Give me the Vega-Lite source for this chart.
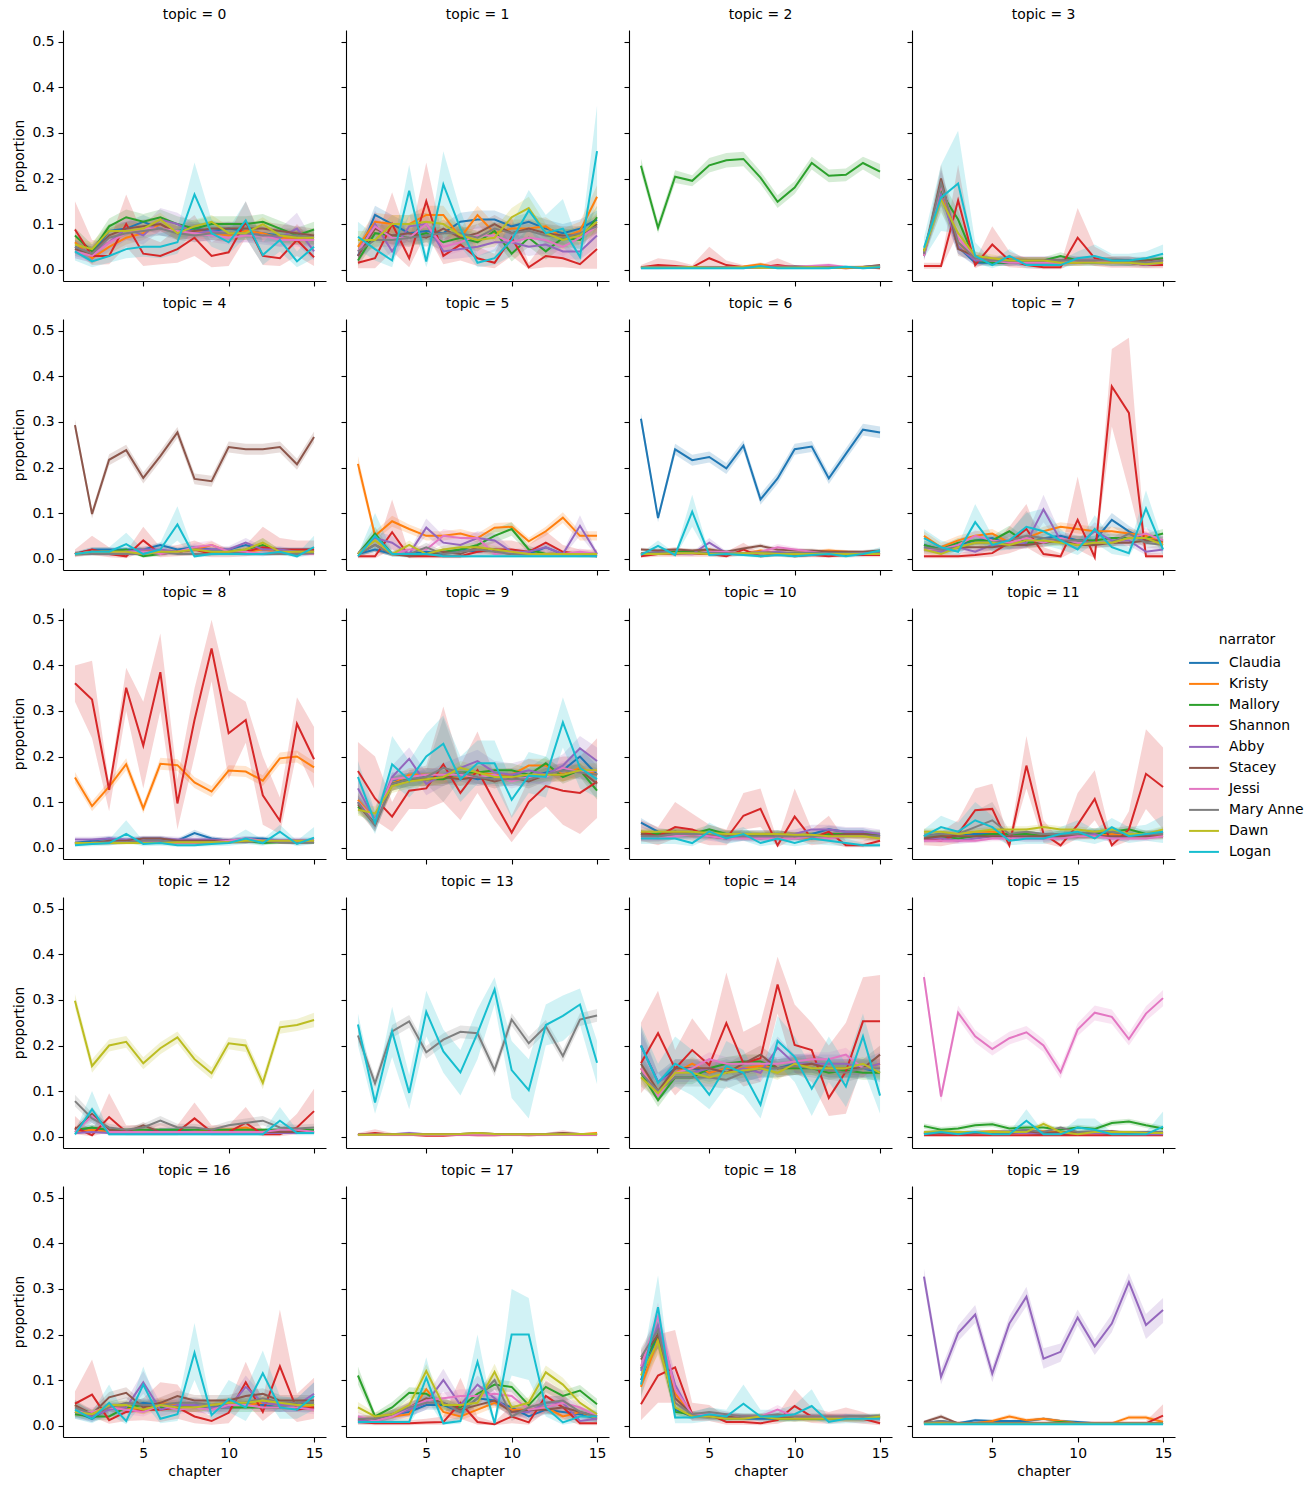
{
"$schema": "https://vega.github.io/schema/vega-lite/v6.json",
"background": "white",
"padding": {"left": 12, "top": 8, "right": 5, "bottom": 5},
"data": {"values": [
{"topic":0,"narrator":"Claudia","chapter":[1,2,3,4,5,6,7,8,9,10,11,12,13,14,15],"p":[0.05,0.035,0.085,0.09,0.105,0.09,0.085,0.09,0.085,0.09,0.085,0.08,0.075,0.07,0.07],"lo":[0.035,0.02,0.07,0.075,0.09,0.075,0.07,0.075,0.07,0.075,0.07,0.065,0.06,0.055,0.055],"hi":[0.065,0.05,0.1,0.105,0.12,0.105,0.1,0.105,0.1,0.105,0.1,0.095,0.09,0.085,0.085]},
{"topic":0,"narrator":"Kristy","chapter":[1,2,3,4,5,6,7,8,9,10,11,12,13,14,15],"p":[0.06,0.025,0.05,0.07,0.08,0.1,0.08,0.085,0.08,0.075,0.085,0.08,0.07,0.07,0.065],"lo":[0.045,0.012,0.035,0.055,0.065,0.085,0.065,0.07,0.065,0.06,0.07,0.065,0.055,0.055,0.05],"hi":[0.075,0.038,0.065,0.085,0.095,0.115,0.095,0.1,0.095,0.09,0.1,0.095,0.085,0.085,0.08]},
{"topic":0,"narrator":"Mallory","chapter":[1,2,3,4,5,6,7,8,9,10,11,12,13,14,15],"p":[0.075,0.04,0.095,0.115,0.105,0.115,0.1,0.09,0.1,0.1,0.1,0.105,0.09,0.075,0.088],"lo":[0.058,0.025,0.078,0.098,0.088,0.098,0.083,0.073,0.083,0.083,0.083,0.088,0.073,0.058,0.07],"hi":[0.092,0.055,0.112,0.132,0.122,0.132,0.117,0.107,0.117,0.117,0.117,0.122,0.107,0.092,0.105]},
{"topic":0,"narrator":"Shannon","chapter":[1,2,3,4,5,6,7,8,9,10,11,12,13,14,15],"p":[0.088,0.03,0.03,0.1,0.035,0.03,0.045,0.07,0.03,0.038,0.105,0.03,0.025,0.065,0.027],"lo":[0.04,0.01,0.012,0.05,0.008,0.012,0.015,0.03,0.005,0.008,0.07,0.01,0.008,0.03,0.008],"hi":[0.15,0.065,0.06,0.165,0.075,0.06,0.09,0.12,0.06,0.08,0.15,0.065,0.055,0.1,0.06]},
{"topic":0,"narrator":"Abby","chapter":[1,2,3,4,5,6,7,8,9,10,11,12,13,14,15],"p":[0.045,0.035,0.06,0.09,0.075,0.11,0.1,0.08,0.085,0.08,0.08,0.075,0.07,0.09,0.04],"lo":[0.025,0.015,0.04,0.065,0.055,0.085,0.075,0.06,0.065,0.06,0.06,0.055,0.05,0.055,0.02],"hi":[0.065,0.055,0.08,0.115,0.095,0.135,0.125,0.1,0.105,0.1,0.1,0.095,0.09,0.125,0.06]},
{"topic":0,"narrator":"Stacey","chapter":[1,2,3,4,5,6,7,8,9,10,11,12,13,14,15],"p":[0.045,0.035,0.075,0.09,0.095,0.1,0.08,0.085,0.09,0.09,0.09,0.09,0.085,0.08,0.075],"lo":[0.03,0.02,0.06,0.075,0.08,0.085,0.065,0.07,0.075,0.075,0.075,0.075,0.07,0.065,0.06],"hi":[0.06,0.05,0.09,0.105,0.11,0.115,0.095,0.1,0.105,0.105,0.105,0.105,0.1,0.095,0.09]},
{"topic":0,"narrator":"Jessi","chapter":[1,2,3,4,5,6,7,8,9,10,11,12,13,14,15],"p":[0.04,0.03,0.06,0.08,0.09,0.09,0.085,0.08,0.075,0.07,0.075,0.075,0.065,0.065,0.065],"lo":[0.025,0.015,0.045,0.065,0.075,0.075,0.07,0.065,0.06,0.055,0.06,0.06,0.05,0.05,0.05],"hi":[0.055,0.045,0.075,0.095,0.105,0.105,0.1,0.095,0.09,0.085,0.09,0.09,0.08,0.08,0.08]},
{"topic":0,"narrator":"Mary Anne","chapter":[1,2,3,4,5,6,7,8,9,10,11,12,13,14,15],"p":[0.05,0.035,0.07,0.08,0.085,0.09,0.08,0.075,0.08,0.08,0.08,0.075,0.075,0.075,0.07],"lo":[0.035,0.02,0.055,0.065,0.07,0.075,0.065,0.06,0.065,0.065,0.065,0.06,0.06,0.06,0.055],"hi":[0.065,0.05,0.085,0.095,0.1,0.105,0.095,0.09,0.095,0.095,0.095,0.09,0.09,0.09,0.085]},
{"topic":0,"narrator":"Dawn","chapter":[1,2,3,4,5,6,7,8,9,10,11,12,13,14,15],"p":[0.055,0.045,0.085,0.085,0.09,0.11,0.08,0.095,0.105,0.08,0.08,0.1,0.075,0.07,0.07],"lo":[0.04,0.03,0.07,0.07,0.075,0.095,0.065,0.08,0.09,0.065,0.065,0.085,0.06,0.055,0.055],"hi":[0.07,0.06,0.1,0.1,0.105,0.125,0.095,0.11,0.12,0.095,0.095,0.115,0.09,0.085,0.085]},
{"topic":0,"narrator":"Logan","chapter":[1,2,3,4,5,6,7,8,9,10,11,12,13,14,15],"p":[0.04,0.018,0.03,0.045,0.05,0.05,0.06,0.165,0.08,0.06,0.108,0.032,0.065,0.018,0.05],"lo":[0.02,0.005,0.015,0.025,0.028,0.025,0.035,0.095,0.05,0.035,0.07,0.01,0.04,0.005,0.025],"hi":[0.06,0.035,0.05,0.065,0.075,0.08,0.09,0.235,0.11,0.09,0.15,0.06,0.095,0.04,0.08]},
{"topic":1,"narrator":"Claudia","chapter":[1,2,3,4,5,6,7,8,9,10,11,12,13,14,15],"p":[0.03,0.12,0.1,0.08,0.085,0.08,0.105,0.11,0.11,0.095,0.105,0.09,0.08,0.09,0.11],"lo":[0.015,0.1,0.08,0.06,0.065,0.06,0.085,0.09,0.09,0.075,0.085,0.07,0.06,0.07,0.09],"hi":[0.045,0.14,0.12,0.1,0.105,0.1,0.125,0.13,0.13,0.115,0.125,0.11,0.1,0.11,0.13]},
{"topic":1,"narrator":"Kristy","chapter":[1,2,3,4,5,6,7,8,9,10,11,12,13,14,15],"p":[0.05,0.105,0.1,0.1,0.12,0.12,0.07,0.12,0.08,0.09,0.09,0.095,0.07,0.085,0.16],"lo":[0.03,0.085,0.08,0.08,0.1,0.1,0.05,0.1,0.06,0.07,0.07,0.075,0.05,0.065,0.135],"hi":[0.07,0.125,0.12,0.12,0.14,0.14,0.09,0.14,0.1,0.11,0.11,0.115,0.09,0.105,0.185]},
{"topic":1,"narrator":"Mallory","chapter":[1,2,3,4,5,6,7,8,9,10,11,12,13,14,15],"p":[0.02,0.08,0.075,0.07,0.08,0.06,0.07,0.06,0.085,0.035,0.07,0.04,0.07,0.065,0.115],"lo":[0.008,0.06,0.055,0.05,0.06,0.04,0.05,0.04,0.065,0.018,0.05,0.022,0.05,0.045,0.09],"hi":[0.035,0.1,0.095,0.09,0.1,0.08,0.09,0.08,0.105,0.055,0.09,0.06,0.09,0.085,0.14]},
{"topic":1,"narrator":"Shannon","chapter":[1,2,3,4,5,6,7,8,9,10,11,12,13,14,15],"p":[0.015,0.025,0.1,0.025,0.15,0.03,0.055,0.025,0.015,0.07,0.005,0.03,0.025,0.012,0.045],"lo":[0.003,0.003,0.04,0.005,0.08,0.012,0.02,0.008,0.003,0.03,0.001,0.005,0.005,0.002,0.002],"hi":[0.03,0.06,0.17,0.06,0.235,0.065,0.1,0.05,0.035,0.115,0.015,0.065,0.06,0.03,0.1]},
{"topic":1,"narrator":"Abby","chapter":[1,2,3,4,5,6,7,8,9,10,11,12,13,14,15],"p":[0.03,0.1,0.04,0.095,0.1,0.04,0.045,0.05,0.06,0.06,0.05,0.055,0.04,0.04,0.075],"lo":[0.012,0.075,0.022,0.07,0.075,0.022,0.025,0.03,0.04,0.04,0.03,0.035,0.022,0.022,0.05],"hi":[0.05,0.13,0.06,0.12,0.125,0.06,0.065,0.07,0.08,0.08,0.07,0.075,0.06,0.06,0.1]},
{"topic":1,"narrator":"Stacey","chapter":[1,2,3,4,5,6,7,8,9,10,11,12,13,14,15],"p":[0.03,0.09,0.075,0.08,0.07,0.09,0.07,0.08,0.1,0.08,0.09,0.08,0.075,0.075,0.1],"lo":[0.015,0.07,0.055,0.06,0.05,0.07,0.05,0.06,0.08,0.06,0.07,0.06,0.055,0.055,0.08],"hi":[0.045,0.11,0.095,0.1,0.09,0.11,0.09,0.1,0.12,0.1,0.11,0.1,0.095,0.095,0.12]},
{"topic":1,"narrator":"Jessi","chapter":[1,2,3,4,5,6,7,8,9,10,11,12,13,14,15],"p":[0.04,0.095,0.07,0.07,0.1,0.05,0.06,0.075,0.075,0.06,0.07,0.065,0.05,0.07,0.095],"lo":[0.02,0.075,0.05,0.05,0.08,0.03,0.04,0.055,0.055,0.04,0.05,0.045,0.03,0.05,0.075],"hi":[0.06,0.115,0.09,0.09,0.12,0.07,0.08,0.095,0.095,0.08,0.09,0.085,0.07,0.09,0.115]},
{"topic":1,"narrator":"Mary Anne","chapter":[1,2,3,4,5,6,7,8,9,10,11,12,13,14,15],"p":[0.04,0.065,0.065,0.07,0.075,0.08,0.08,0.07,0.09,0.08,0.085,0.075,0.07,0.08,0.095],"lo":[0.025,0.05,0.05,0.055,0.06,0.065,0.065,0.055,0.075,0.065,0.07,0.06,0.055,0.065,0.08],"hi":[0.055,0.08,0.08,0.085,0.09,0.095,0.095,0.085,0.105,0.095,0.1,0.09,0.085,0.095,0.11]},
{"topic":1,"narrator":"Dawn","chapter":[1,2,3,4,5,6,7,8,9,10,11,12,13,14,15],"p":[0.065,0.065,0.1,0.1,0.105,0.1,0.075,0.065,0.07,0.115,0.135,0.08,0.065,0.075,0.105],"lo":[0.045,0.045,0.08,0.08,0.085,0.08,0.055,0.045,0.05,0.095,0.11,0.06,0.045,0.055,0.085],"hi":[0.085,0.085,0.12,0.12,0.125,0.12,0.095,0.085,0.09,0.135,0.16,0.1,0.085,0.095,0.125]},
{"topic":1,"narrator":"Logan","chapter":[1,2,3,4,5,6,7,8,9,10,11,12,13,14,15],"p":[0.072,0.045,0.02,0.173,0.018,0.187,0.09,0.015,0.025,0.065,0.13,0.08,0.09,0.028,0.26],"lo":[0.045,0.02,0.005,0.12,0.005,0.12,0.05,0.005,0.01,0.03,0.09,0.04,0.05,0.01,0.16],"hi":[0.105,0.075,0.04,0.23,0.035,0.26,0.13,0.03,0.045,0.1,0.175,0.12,0.155,0.05,0.36]},
{"topic":2,"narrator":"Claudia","chapter":[1,2,3,4,5,6,7,8,9,10,11,12,13,14,15],"p":[0.004,0.004,0.005,0.005,0.005,0.006,0.006,0.005,0.005,0.006,0.005,0.005,0.005,0.006,0.008],"lo":[0.002,0.002,0.003,0.003,0.003,0.004,0.004,0.003,0.003,0.004,0.003,0.003,0.003,0.004,0.006],"hi":[0.006,0.006,0.007,0.007,0.007,0.008,0.008,0.007,0.007,0.008,0.007,0.007,0.007,0.008,0.01]},
{"topic":2,"narrator":"Kristy","chapter":[1,2,3,4,5,6,7,8,9,10,11,12,13,14,15],"p":[0.005,0.005,0.005,0.006,0.005,0.006,0.007,0.012,0.005,0.006,0.006,0.007,0.005,0.005,0.006],"lo":[0.003,0.003,0.003,0.004,0.003,0.004,0.005,0.008,0.003,0.004,0.004,0.005,0.003,0.003,0.004],"hi":[0.007,0.007,0.007,0.008,0.007,0.008,0.009,0.016,0.007,0.008,0.008,0.009,0.007,0.007,0.008]},
{"topic":2,"narrator":"Mallory","chapter":[1,2,3,4,5,6,7,8,9,10,11,12,13,14,15],"p":[0.228,0.092,0.204,0.195,0.229,0.24,0.243,0.202,0.149,0.18,0.234,0.206,0.208,0.234,0.215],"lo":[0.212,0.08,0.19,0.183,0.213,0.224,0.227,0.188,0.135,0.166,0.22,0.192,0.194,0.22,0.198],"hi":[0.244,0.105,0.218,0.207,0.245,0.256,0.259,0.216,0.163,0.194,0.248,0.22,0.222,0.248,0.232]},
{"topic":2,"narrator":"Shannon","chapter":[1,2,3,4,5,6,7,8,9,10,11,12,13,14,15],"p":[0.005,0.01,0.008,0.005,0.025,0.01,0.005,0.005,0.01,0.005,0.005,0.005,0.003,0.005,0.003],"lo":[0.002,0.003,0.003,0.002,0.008,0.003,0.002,0.002,0.003,0.002,0.002,0.002,0.001,0.002,0.001],"hi":[0.01,0.025,0.02,0.01,0.05,0.02,0.01,0.01,0.025,0.01,0.01,0.01,0.008,0.01,0.008]},
{"topic":2,"narrator":"Abby","chapter":[1,2,3,4,5,6,7,8,9,10,11,12,13,14,15],"p":[0.004,0.004,0.005,0.005,0.006,0.005,0.004,0.006,0.005,0.007,0.005,0.005,0.005,0.004,0.006],"lo":[0.001,0.001,0.002,0.002,0.003,0.002,0.001,0.003,0.002,0.004,0.002,0.002,0.002,0.001,0.003],"hi":[0.007,0.007,0.008,0.008,0.009,0.008,0.007,0.009,0.008,0.01,0.008,0.008,0.008,0.007,0.009]},
{"topic":2,"narrator":"Stacey","chapter":[1,2,3,4,5,6,7,8,9,10,11,12,13,14,15],"p":[0.006,0.006,0.006,0.006,0.006,0.006,0.006,0.006,0.006,0.007,0.006,0.006,0.006,0.006,0.01],"lo":[0.004,0.004,0.004,0.004,0.004,0.004,0.004,0.004,0.004,0.005,0.004,0.004,0.004,0.004,0.008],"hi":[0.008,0.008,0.008,0.008,0.008,0.008,0.008,0.008,0.008,0.009,0.008,0.008,0.008,0.008,0.012]},
{"topic":2,"narrator":"Jessi","chapter":[1,2,3,4,5,6,7,8,9,10,11,12,13,14,15],"p":[0.005,0.005,0.006,0.006,0.006,0.005,0.005,0.006,0.007,0.006,0.008,0.01,0.006,0.005,0.006],"lo":[0.003,0.003,0.004,0.004,0.004,0.003,0.003,0.004,0.005,0.004,0.005,0.006,0.004,0.003,0.004],"hi":[0.007,0.007,0.008,0.008,0.008,0.007,0.007,0.008,0.009,0.008,0.011,0.014,0.008,0.007,0.008]},
{"topic":2,"narrator":"Mary Anne","chapter":[1,2,3,4,5,6,7,8,9,10,11,12,13,14,15],"p":[0.005,0.005,0.005,0.006,0.005,0.005,0.005,0.005,0.006,0.006,0.005,0.005,0.005,0.006,0.008],"lo":[0.003,0.003,0.003,0.004,0.003,0.003,0.003,0.003,0.004,0.004,0.003,0.003,0.003,0.004,0.006],"hi":[0.007,0.007,0.007,0.008,0.007,0.007,0.007,0.007,0.008,0.008,0.007,0.007,0.007,0.008,0.01]},
{"topic":2,"narrator":"Dawn","chapter":[1,2,3,4,5,6,7,8,9,10,11,12,13,14,15],"p":[0.004,0.004,0.004,0.005,0.004,0.004,0.005,0.004,0.004,0.004,0.005,0.004,0.004,0.005,0.005],"lo":[0.002,0.002,0.002,0.003,0.002,0.002,0.003,0.002,0.002,0.002,0.003,0.002,0.002,0.003,0.003],"hi":[0.006,0.006,0.006,0.007,0.006,0.006,0.007,0.006,0.006,0.006,0.007,0.006,0.006,0.007,0.007]},
{"topic":2,"narrator":"Logan","chapter":[1,2,3,4,5,6,7,8,9,10,11,12,13,14,15],"p":[0.003,0.003,0.003,0.003,0.003,0.003,0.003,0.008,0.003,0.003,0.003,0.003,0.006,0.003,0.005],"lo":[0.001,0.001,0.001,0.001,0.001,0.001,0.001,0.004,0.001,0.001,0.001,0.001,0.003,0.001,0.002],"hi":[0.006,0.006,0.006,0.006,0.006,0.006,0.006,0.014,0.006,0.006,0.006,0.006,0.01,0.006,0.009]},
{"topic":3,"narrator":"Claudia","chapter":[1,2,3,4,5,6,7,8,9,10,11,12,13,14,15],"p":[0.035,0.17,0.05,0.015,0.015,0.015,0.015,0.015,0.015,0.015,0.015,0.02,0.02,0.02,0.02],"lo":[0.025,0.14,0.035,0.008,0.008,0.008,0.008,0.008,0.008,0.008,0.008,0.012,0.012,0.012,0.012],"hi":[0.045,0.2,0.065,0.022,0.022,0.022,0.022,0.022,0.022,0.022,0.022,0.028,0.028,0.028,0.028]},
{"topic":3,"narrator":"Kristy","chapter":[1,2,3,4,5,6,7,8,9,10,11,12,13,14,15],"p":[0.04,0.17,0.06,0.02,0.02,0.025,0.02,0.02,0.015,0.015,0.02,0.02,0.015,0.02,0.02],"lo":[0.03,0.14,0.045,0.013,0.013,0.018,0.013,0.013,0.008,0.008,0.013,0.013,0.008,0.013,0.013],"hi":[0.05,0.2,0.075,0.027,0.027,0.032,0.027,0.027,0.022,0.022,0.027,0.027,0.022,0.027,0.027]},
{"topic":3,"narrator":"Mallory","chapter":[1,2,3,4,5,6,7,8,9,10,11,12,13,14,15],"p":[0.04,0.17,0.11,0.02,0.015,0.015,0.02,0.02,0.03,0.02,0.02,0.015,0.015,0.02,0.025],"lo":[0.03,0.14,0.09,0.013,0.008,0.008,0.013,0.013,0.022,0.013,0.013,0.008,0.008,0.013,0.018],"hi":[0.05,0.2,0.13,0.027,0.022,0.022,0.027,0.027,0.038,0.027,0.027,0.022,0.022,0.027,0.032]},
{"topic":3,"narrator":"Shannon","chapter":[1,2,3,4,5,6,7,8,9,10,11,12,13,14,15],"p":[0.008,0.008,0.152,0.01,0.055,0.02,0.01,0.005,0.005,0.07,0.025,0.015,0.015,0.01,0.01],"lo":[0.002,0.002,0.08,0.003,0.02,0.005,0.003,0.001,0.001,0.02,0.008,0.004,0.004,0.003,0.003],"hi":[0.015,0.015,0.23,0.02,0.095,0.04,0.025,0.012,0.012,0.135,0.05,0.03,0.03,0.02,0.02]},
{"topic":3,"narrator":"Abby","chapter":[1,2,3,4,5,6,7,8,9,10,11,12,13,14,15],"p":[0.035,0.165,0.05,0.02,0.02,0.02,0.02,0.02,0.02,0.02,0.02,0.015,0.015,0.01,0.015],"lo":[0.022,0.13,0.035,0.01,0.01,0.01,0.01,0.01,0.01,0.01,0.01,0.007,0.007,0.004,0.007],"hi":[0.048,0.2,0.065,0.03,0.03,0.03,0.03,0.03,0.03,0.03,0.03,0.025,0.025,0.018,0.025]},
{"topic":3,"narrator":"Stacey","chapter":[1,2,3,4,5,6,7,8,9,10,11,12,13,14,15],"p":[0.03,0.2,0.045,0.03,0.02,0.02,0.02,0.02,0.02,0.02,0.02,0.02,0.02,0.02,0.02],"lo":[0.02,0.17,0.03,0.02,0.013,0.013,0.013,0.013,0.013,0.013,0.013,0.013,0.013,0.013,0.013],"hi":[0.04,0.23,0.06,0.04,0.027,0.027,0.027,0.027,0.027,0.027,0.027,0.027,0.027,0.027,0.027]},
{"topic":3,"narrator":"Jessi","chapter":[1,2,3,4,5,6,7,8,9,10,11,12,13,14,15],"p":[0.03,0.185,0.07,0.025,0.02,0.015,0.015,0.015,0.015,0.02,0.02,0.015,0.015,0.015,0.02],"lo":[0.02,0.15,0.05,0.015,0.012,0.008,0.008,0.008,0.008,0.012,0.012,0.008,0.008,0.008,0.012],"hi":[0.04,0.22,0.09,0.035,0.028,0.022,0.022,0.022,0.022,0.028,0.028,0.022,0.022,0.022,0.028]},
{"topic":3,"narrator":"Mary Anne","chapter":[1,2,3,4,5,6,7,8,9,10,11,12,13,14,15],"p":[0.035,0.19,0.06,0.025,0.02,0.02,0.02,0.02,0.02,0.02,0.02,0.02,0.015,0.015,0.02],"lo":[0.025,0.16,0.045,0.017,0.013,0.013,0.013,0.013,0.013,0.013,0.013,0.013,0.008,0.008,0.013],"hi":[0.045,0.22,0.075,0.033,0.027,0.027,0.027,0.027,0.027,0.027,0.027,0.027,0.022,0.022,0.027]},
{"topic":3,"narrator":"Dawn","chapter":[1,2,3,4,5,6,7,8,9,10,11,12,13,14,15],"p":[0.04,0.155,0.08,0.03,0.025,0.02,0.02,0.02,0.015,0.015,0.015,0.015,0.015,0.012,0.015],"lo":[0.03,0.125,0.06,0.02,0.017,0.013,0.013,0.013,0.008,0.008,0.008,0.008,0.008,0.006,0.008],"hi":[0.05,0.185,0.1,0.04,0.033,0.027,0.027,0.027,0.022,0.022,0.022,0.022,0.022,0.018,0.022]},
{"topic":3,"narrator":"Logan","chapter":[1,2,3,4,5,6,7,8,9,10,11,12,13,14,15],"p":[0.048,0.158,0.189,0.03,0.01,0.03,0.01,0.01,0.01,0.025,0.03,0.02,0.02,0.025,0.035],"lo":[0.025,0.085,0.08,0.015,0.003,0.015,0.003,0.003,0.003,0.012,0.012,0.008,0.008,0.012,0.02],"hi":[0.07,0.23,0.305,0.06,0.02,0.045,0.02,0.02,0.02,0.04,0.055,0.035,0.035,0.04,0.055]},
{"topic":4,"narrator":"Claudia","chapter":[1,2,3,4,5,6,7,8,9,10,11,12,13,14,15],"p":[0.01,0.02,0.02,0.02,0.02,0.03,0.02,0.025,0.02,0.02,0.03,0.02,0.02,0.02,0.02],"lo":[0.006,0.015,0.015,0.015,0.015,0.024,0.015,0.019,0.015,0.015,0.024,0.015,0.015,0.015,0.015],"hi":[0.014,0.025,0.025,0.025,0.025,0.036,0.025,0.031,0.025,0.025,0.036,0.025,0.025,0.025,0.025]},
{"topic":4,"narrator":"Kristy","chapter":[1,2,3,4,5,6,7,8,9,10,11,12,13,14,15],"p":[0.01,0.015,0.015,0.015,0.02,0.015,0.015,0.02,0.03,0.015,0.015,0.02,0.015,0.015,0.02],"lo":[0.005,0.01,0.01,0.01,0.015,0.01,0.01,0.015,0.022,0.01,0.01,0.015,0.01,0.01,0.015],"hi":[0.015,0.02,0.02,0.02,0.025,0.02,0.02,0.025,0.038,0.02,0.02,0.025,0.02,0.02,0.025]},
{"topic":4,"narrator":"Mallory","chapter":[1,2,3,4,5,6,7,8,9,10,11,12,13,14,15],"p":[0.01,0.015,0.015,0.02,0.005,0.01,0.015,0.02,0.015,0.015,0.02,0.03,0.015,0.015,0.015],"lo":[0.005,0.01,0.01,0.015,0.002,0.005,0.01,0.015,0.01,0.01,0.015,0.02,0.01,0.01,0.01],"hi":[0.015,0.02,0.02,0.025,0.008,0.015,0.02,0.025,0.02,0.02,0.025,0.045,0.02,0.02,0.02]},
{"topic":4,"narrator":"Shannon","chapter":[1,2,3,4,5,6,7,8,9,10,11,12,13,14,15],"p":[0.01,0.02,0.01,0.005,0.04,0.01,0.015,0.02,0.01,0.01,0.015,0.025,0.02,0.02,0.02],"lo":[0.003,0.008,0.003,0.001,0.015,0.003,0.005,0.008,0.003,0.003,0.005,0.01,0.008,0.008,0.008],"hi":[0.02,0.05,0.025,0.015,0.07,0.025,0.03,0.04,0.025,0.025,0.03,0.07,0.045,0.04,0.04]},
{"topic":4,"narrator":"Abby","chapter":[1,2,3,4,5,6,7,8,9,10,11,12,13,14,15],"p":[0.01,0.015,0.015,0.015,0.02,0.02,0.015,0.02,0.02,0.02,0.035,0.02,0.02,0.015,0.015],"lo":[0.005,0.01,0.01,0.01,0.013,0.013,0.01,0.013,0.013,0.013,0.025,0.013,0.013,0.01,0.01],"hi":[0.015,0.02,0.02,0.02,0.027,0.027,0.02,0.027,0.027,0.027,0.045,0.027,0.027,0.02,0.02]},
{"topic":4,"narrator":"Stacey","chapter":[1,2,3,4,5,6,7,8,9,10,11,12,13,14,15],"p":[0.293,0.098,0.217,0.238,0.177,0.225,0.277,0.175,0.17,0.245,0.24,0.24,0.245,0.207,0.267],"lo":[0.28,0.088,0.205,0.226,0.165,0.213,0.265,0.163,0.158,0.233,0.228,0.228,0.233,0.195,0.255],"hi":[0.306,0.108,0.229,0.25,0.189,0.237,0.289,0.187,0.182,0.257,0.252,0.252,0.257,0.219,0.279]},
{"topic":4,"narrator":"Jessi","chapter":[1,2,3,4,5,6,7,8,9,10,11,12,13,14,15],"p":[0.01,0.015,0.01,0.015,0.015,0.01,0.015,0.025,0.03,0.015,0.015,0.01,0.015,0.01,0.01],"lo":[0.005,0.01,0.005,0.01,0.01,0.005,0.01,0.015,0.02,0.01,0.01,0.005,0.01,0.005,0.005],"hi":[0.015,0.02,0.015,0.02,0.02,0.015,0.02,0.035,0.04,0.02,0.02,0.015,0.02,0.015,0.015]},
{"topic":4,"narrator":"Mary Anne","chapter":[1,2,3,4,5,6,7,8,9,10,11,12,13,14,15],"p":[0.01,0.01,0.01,0.01,0.01,0.015,0.01,0.01,0.01,0.015,0.01,0.01,0.01,0.01,0.012],"lo":[0.006,0.006,0.006,0.006,0.006,0.01,0.006,0.006,0.006,0.01,0.006,0.006,0.006,0.006,0.008],"hi":[0.014,0.014,0.014,0.014,0.014,0.02,0.014,0.014,0.014,0.02,0.014,0.014,0.014,0.014,0.016]},
{"topic":4,"narrator":"Dawn","chapter":[1,2,3,4,5,6,7,8,9,10,11,12,13,14,15],"p":[0.01,0.015,0.015,0.015,0.01,0.015,0.015,0.02,0.015,0.015,0.02,0.035,0.015,0.015,0.015],"lo":[0.006,0.01,0.01,0.01,0.006,0.01,0.01,0.014,0.01,0.01,0.014,0.025,0.01,0.01,0.01],"hi":[0.014,0.02,0.02,0.02,0.014,0.02,0.02,0.026,0.02,0.02,0.026,0.045,0.02,0.02,0.02]},
{"topic":4,"narrator":"Logan","chapter":[1,2,3,4,5,6,7,8,9,10,11,12,13,14,15],"p":[0.01,0.015,0.015,0.032,0.01,0.02,0.075,0.005,0.01,0.01,0.01,0.01,0.015,0.005,0.025],"lo":[0.005,0.008,0.008,0.015,0.005,0.01,0.04,0.002,0.005,0.005,0.005,0.005,0.008,0.002,0.01],"hi":[0.015,0.025,0.025,0.057,0.02,0.035,0.115,0.01,0.02,0.02,0.02,0.02,0.025,0.01,0.05]},
{"topic":5,"narrator":"Claudia","chapter":[1,2,3,4,5,6,7,8,9,10,11,12,13,14,15],"p":[0.01,0.02,0.01,0.01,0.015,0.01,0.02,0.015,0.02,0.015,0.01,0.025,0.01,0.01,0.01],"lo":[0.006,0.014,0.006,0.006,0.01,0.006,0.014,0.01,0.014,0.01,0.006,0.018,0.006,0.006,0.006],"hi":[0.014,0.026,0.014,0.014,0.02,0.014,0.026,0.02,0.026,0.02,0.014,0.032,0.014,0.014,0.014]},
{"topic":5,"narrator":"Kristy","chapter":[1,2,3,4,5,6,7,8,9,10,11,12,13,14,15],"p":[0.208,0.05,0.082,0.065,0.05,0.05,0.055,0.045,0.068,0.07,0.038,0.06,0.09,0.05,0.05],"lo":[0.19,0.04,0.07,0.055,0.04,0.04,0.045,0.035,0.058,0.06,0.03,0.05,0.078,0.04,0.04],"hi":[0.225,0.06,0.094,0.075,0.06,0.06,0.065,0.055,0.078,0.08,0.046,0.07,0.102,0.06,0.06]},
{"topic":5,"narrator":"Mallory","chapter":[1,2,3,4,5,6,7,8,9,10,11,12,13,14,15],"p":[0.01,0.055,0.01,0.01,0.01,0.015,0.02,0.03,0.05,0.065,0.02,0.01,0.01,0.01,0.01],"lo":[0.005,0.04,0.005,0.005,0.005,0.008,0.012,0.02,0.035,0.05,0.012,0.005,0.005,0.005,0.005],"hi":[0.015,0.07,0.015,0.015,0.015,0.022,0.028,0.04,0.065,0.08,0.028,0.015,0.015,0.015,0.015]},
{"topic":5,"narrator":"Shannon","chapter":[1,2,3,4,5,6,7,8,9,10,11,12,13,14,15],"p":[0.005,0.005,0.058,0.005,0.005,0.005,0.005,0.015,0.02,0.02,0.015,0.035,0.015,0.01,0.01],"lo":[0.001,0.001,0.02,0.001,0.001,0.001,0.001,0.005,0.008,0.008,0.005,0.015,0.005,0.003,0.003],"hi":[0.012,0.012,0.13,0.012,0.012,0.012,0.012,0.03,0.04,0.04,0.03,0.06,0.03,0.02,0.02]},
{"topic":5,"narrator":"Abby","chapter":[1,2,3,4,5,6,7,8,9,10,11,12,13,14,15],"p":[0.01,0.045,0.035,0.01,0.068,0.035,0.03,0.045,0.04,0.015,0.015,0.025,0.01,0.072,0.01],"lo":[0.005,0.03,0.02,0.005,0.05,0.02,0.018,0.03,0.025,0.008,0.008,0.015,0.005,0.05,0.005],"hi":[0.015,0.06,0.05,0.015,0.088,0.05,0.042,0.06,0.055,0.022,0.022,0.035,0.015,0.095,0.015]},
{"topic":5,"narrator":"Stacey","chapter":[1,2,3,4,5,6,7,8,9,10,11,12,13,14,15],"p":[0.01,0.03,0.01,0.005,0.01,0.015,0.01,0.025,0.015,0.01,0.01,0.01,0.01,0.01,0.005],"lo":[0.005,0.015,0.005,0.002,0.005,0.008,0.005,0.015,0.008,0.005,0.005,0.005,0.005,0.005,0.002],"hi":[0.015,0.045,0.015,0.008,0.015,0.022,0.015,0.035,0.022,0.015,0.015,0.015,0.015,0.015,0.008]},
{"topic":5,"narrator":"Jessi","chapter":[1,2,3,4,5,6,7,8,9,10,11,12,13,14,15],"p":[0.01,0.04,0.01,0.02,0.02,0.05,0.045,0.045,0.01,0.015,0.01,0.01,0.01,0.015,0.01],"lo":[0.005,0.028,0.005,0.012,0.012,0.035,0.032,0.032,0.005,0.008,0.005,0.005,0.005,0.008,0.005],"hi":[0.015,0.052,0.015,0.028,0.028,0.065,0.058,0.058,0.015,0.022,0.015,0.015,0.015,0.022,0.015]},
{"topic":5,"narrator":"Mary Anne","chapter":[1,2,3,4,5,6,7,8,9,10,11,12,13,14,15],"p":[0.01,0.03,0.01,0.01,0.025,0.01,0.015,0.02,0.015,0.01,0.01,0.01,0.01,0.01,0.005],"lo":[0.005,0.015,0.005,0.005,0.015,0.005,0.008,0.012,0.008,0.005,0.005,0.005,0.005,0.005,0.002],"hi":[0.015,0.045,0.015,0.015,0.035,0.015,0.022,0.028,0.022,0.015,0.015,0.015,0.015,0.015,0.008]},
{"topic":5,"narrator":"Dawn","chapter":[1,2,3,4,5,6,7,8,9,10,11,12,13,14,15],"p":[0.01,0.04,0.01,0.03,0.01,0.02,0.025,0.025,0.02,0.015,0.01,0.01,0.01,0.01,0.01],"lo":[0.005,0.028,0.005,0.02,0.005,0.012,0.017,0.017,0.012,0.008,0.005,0.005,0.005,0.005,0.005],"hi":[0.015,0.052,0.015,0.04,0.015,0.028,0.033,0.033,0.028,0.022,0.015,0.015,0.015,0.015,0.015]},
{"topic":5,"narrator":"Logan","chapter":[1,2,3,4,5,6,7,8,9,10,11,12,13,14,15],"p":[0.005,0.05,0.01,0.01,0.01,0.005,0.005,0.005,0.005,0.005,0.005,0.005,0.005,0.005,0.005],"lo":[0.002,0.02,0.004,0.004,0.004,0.002,0.002,0.002,0.002,0.002,0.002,0.002,0.002,0.002,0.002],"hi":[0.01,0.1,0.018,0.018,0.018,0.01,0.01,0.01,0.01,0.01,0.01,0.01,0.01,0.01,0.01]},
{"topic":6,"narrator":"Claudia","chapter":[1,2,3,4,5,6,7,8,9,10,11,12,13,14,15],"p":[0.307,0.089,0.24,0.216,0.223,0.198,0.248,0.13,0.176,0.24,0.246,0.176,0.23,0.283,0.277],"lo":[0.295,0.08,0.228,0.204,0.211,0.186,0.236,0.118,0.164,0.228,0.234,0.164,0.218,0.27,0.264],"hi":[0.32,0.098,0.252,0.228,0.235,0.21,0.26,0.142,0.188,0.252,0.258,0.188,0.242,0.296,0.29]},
{"topic":6,"narrator":"Kristy","chapter":[1,2,3,4,5,6,7,8,9,10,11,12,13,14,15],"p":[0.01,0.012,0.01,0.015,0.02,0.01,0.01,0.018,0.012,0.012,0.015,0.018,0.015,0.012,0.012],"lo":[0.006,0.008,0.006,0.011,0.015,0.006,0.006,0.014,0.008,0.008,0.011,0.014,0.011,0.008,0.008],"hi":[0.014,0.016,0.014,0.019,0.025,0.014,0.014,0.022,0.016,0.016,0.019,0.022,0.019,0.016,0.016]},
{"topic":6,"narrator":"Mallory","chapter":[1,2,3,4,5,6,7,8,9,10,11,12,13,14,15],"p":[0.01,0.012,0.015,0.015,0.012,0.012,0.01,0.012,0.012,0.012,0.01,0.01,0.012,0.012,0.012],"lo":[0.006,0.008,0.011,0.011,0.008,0.008,0.006,0.008,0.008,0.008,0.006,0.006,0.008,0.008,0.008],"hi":[0.014,0.016,0.019,0.019,0.016,0.016,0.014,0.016,0.016,0.016,0.014,0.014,0.016,0.016,0.016]},
{"topic":6,"narrator":"Shannon","chapter":[1,2,3,4,5,6,7,8,9,10,11,12,13,14,15],"p":[0.005,0.01,0.01,0.01,0.01,0.005,0.02,0.005,0.01,0.005,0.008,0.005,0.008,0.008,0.008],"lo":[0.002,0.004,0.004,0.004,0.004,0.002,0.008,0.002,0.004,0.002,0.003,0.002,0.003,0.003,0.003],"hi":[0.01,0.02,0.025,0.02,0.02,0.015,0.035,0.012,0.02,0.012,0.015,0.012,0.015,0.015,0.015]},
{"topic":6,"narrator":"Abby","chapter":[1,2,3,4,5,6,7,8,9,10,11,12,13,14,15],"p":[0.01,0.015,0.012,0.01,0.035,0.012,0.01,0.012,0.015,0.01,0.01,0.012,0.01,0.012,0.012],"lo":[0.006,0.01,0.008,0.006,0.025,0.008,0.006,0.008,0.01,0.006,0.006,0.008,0.006,0.008,0.008],"hi":[0.014,0.02,0.016,0.014,0.045,0.016,0.014,0.016,0.02,0.014,0.014,0.016,0.014,0.016,0.016]},
{"topic":6,"narrator":"Stacey","chapter":[1,2,3,4,5,6,7,8,9,10,11,12,13,14,15],"p":[0.02,0.018,0.02,0.018,0.02,0.015,0.022,0.028,0.02,0.018,0.018,0.015,0.015,0.015,0.018],"lo":[0.016,0.014,0.016,0.014,0.016,0.011,0.018,0.023,0.016,0.014,0.014,0.011,0.011,0.011,0.014],"hi":[0.024,0.022,0.024,0.022,0.024,0.019,0.026,0.033,0.024,0.022,0.022,0.019,0.019,0.019,0.022]},
{"topic":6,"narrator":"Jessi","chapter":[1,2,3,4,5,6,7,8,9,10,11,12,13,14,15],"p":[0.01,0.012,0.012,0.01,0.015,0.015,0.01,0.015,0.025,0.02,0.015,0.01,0.01,0.012,0.012],"lo":[0.006,0.008,0.008,0.006,0.011,0.011,0.006,0.011,0.018,0.015,0.011,0.006,0.006,0.008,0.008],"hi":[0.014,0.016,0.016,0.014,0.019,0.019,0.014,0.019,0.032,0.025,0.019,0.014,0.014,0.016,0.016]},
{"topic":6,"narrator":"Mary Anne","chapter":[1,2,3,4,5,6,7,8,9,10,11,12,13,14,15],"p":[0.012,0.013,0.012,0.012,0.013,0.012,0.012,0.014,0.012,0.012,0.013,0.012,0.012,0.012,0.013],"lo":[0.009,0.01,0.009,0.009,0.01,0.009,0.009,0.011,0.009,0.009,0.01,0.009,0.009,0.009,0.01],"hi":[0.015,0.016,0.015,0.015,0.016,0.015,0.015,0.017,0.015,0.015,0.016,0.015,0.015,0.015,0.016]},
{"topic":6,"narrator":"Dawn","chapter":[1,2,3,4,5,6,7,8,9,10,11,12,13,14,15],"p":[0.01,0.01,0.012,0.012,0.01,0.01,0.012,0.012,0.01,0.01,0.01,0.01,0.01,0.01,0.01],"lo":[0.007,0.007,0.009,0.009,0.007,0.007,0.009,0.009,0.007,0.007,0.007,0.007,0.007,0.007,0.007],"hi":[0.013,0.013,0.015,0.015,0.013,0.013,0.015,0.015,0.013,0.013,0.013,0.013,0.013,0.013,0.013]},
{"topic":6,"narrator":"Logan","chapter":[1,2,3,4,5,6,7,8,9,10,11,12,13,14,15],"p":[0.008,0.028,0.008,0.103,0.008,0.01,0.008,0.005,0.008,0.005,0.008,0.01,0.005,0.01,0.018],"lo":[0.004,0.018,0.004,0.07,0.004,0.005,0.004,0.002,0.004,0.002,0.004,0.005,0.002,0.005,0.01],"hi":[0.012,0.04,0.012,0.14,0.012,0.02,0.012,0.01,0.012,0.01,0.012,0.015,0.01,0.015,0.025]},
{"topic":7,"narrator":"Claudia","chapter":[1,2,3,4,5,6,7,8,9,10,11,12,13,14,15],"p":[0.03,0.02,0.03,0.04,0.045,0.03,0.035,0.045,0.05,0.04,0.04,0.085,0.06,0.04,0.04],"lo":[0.02,0.012,0.02,0.03,0.035,0.02,0.025,0.035,0.04,0.03,0.03,0.07,0.048,0.03,0.03],"hi":[0.04,0.028,0.04,0.05,0.055,0.04,0.045,0.055,0.06,0.05,0.05,0.1,0.072,0.05,0.05]},
{"topic":7,"narrator":"Kristy","chapter":[1,2,3,4,5,6,7,8,9,10,11,12,13,14,15],"p":[0.05,0.025,0.04,0.05,0.055,0.035,0.045,0.06,0.07,0.065,0.06,0.06,0.055,0.05,0.035],"lo":[0.04,0.015,0.03,0.04,0.045,0.025,0.035,0.05,0.06,0.055,0.05,0.05,0.045,0.04,0.025],"hi":[0.06,0.035,0.05,0.06,0.065,0.045,0.055,0.07,0.08,0.075,0.07,0.07,0.065,0.06,0.045]},
{"topic":7,"narrator":"Mallory","chapter":[1,2,3,4,5,6,7,8,9,10,11,12,13,14,15],"p":[0.03,0.02,0.035,0.04,0.04,0.06,0.035,0.035,0.04,0.04,0.04,0.045,0.045,0.045,0.055],"lo":[0.02,0.012,0.025,0.03,0.03,0.048,0.025,0.025,0.03,0.03,0.03,0.035,0.035,0.035,0.045],"hi":[0.04,0.028,0.045,0.05,0.05,0.072,0.045,0.045,0.05,0.05,0.05,0.055,0.055,0.055,0.065]},
{"topic":7,"narrator":"Shannon","chapter":[1,2,3,4,5,6,7,8,9,10,11,12,13,14,15],"p":[0.005,0.005,0.005,0.008,0.012,0.035,0.065,0.01,0.005,0.085,0.003,0.378,0.32,0.005,0.005],"lo":[0.001,0.001,0.001,0.002,0.004,0.012,0.025,0.003,0.001,0.02,0.001,0.29,0.15,0.001,0.001],"hi":[0.012,0.012,0.012,0.02,0.03,0.07,0.12,0.025,0.012,0.18,0.01,0.46,0.485,0.012,0.012]},
{"topic":7,"narrator":"Abby","chapter":[1,2,3,4,5,6,7,8,9,10,11,12,13,14,15],"p":[0.025,0.015,0.025,0.015,0.03,0.03,0.035,0.108,0.04,0.03,0.06,0.04,0.04,0.015,0.02],"lo":[0.015,0.008,0.015,0.008,0.02,0.02,0.022,0.08,0.028,0.02,0.045,0.028,0.028,0.008,0.012],"hi":[0.035,0.025,0.035,0.025,0.042,0.042,0.05,0.14,0.055,0.042,0.08,0.055,0.055,0.025,0.03]},
{"topic":7,"narrator":"Stacey","chapter":[1,2,3,4,5,6,7,8,9,10,11,12,13,14,15],"p":[0.02,0.02,0.025,0.025,0.025,0.03,0.03,0.035,0.04,0.03,0.03,0.035,0.035,0.04,0.04],"lo":[0.012,0.012,0.017,0.017,0.017,0.022,0.022,0.027,0.032,0.022,0.022,0.027,0.027,0.032,0.032],"hi":[0.028,0.028,0.033,0.033,0.033,0.038,0.038,0.043,0.048,0.038,0.038,0.043,0.043,0.048,0.048]},
{"topic":7,"narrator":"Jessi","chapter":[1,2,3,4,5,6,7,8,9,10,11,12,13,14,15],"p":[0.02,0.02,0.03,0.05,0.04,0.035,0.045,0.035,0.045,0.035,0.035,0.035,0.045,0.055,0.04],"lo":[0.01,0.01,0.02,0.038,0.03,0.025,0.035,0.025,0.035,0.025,0.025,0.025,0.035,0.043,0.03],"hi":[0.03,0.03,0.04,0.062,0.05,0.045,0.055,0.045,0.055,0.045,0.045,0.045,0.055,0.067,0.05]},
{"topic":7,"narrator":"Mary Anne","chapter":[1,2,3,4,5,6,7,8,9,10,11,12,13,14,15],"p":[0.025,0.02,0.025,0.035,0.035,0.04,0.05,0.045,0.04,0.04,0.035,0.035,0.055,0.035,0.03],"lo":[0.015,0.012,0.015,0.025,0.025,0.028,0.025,0.033,0.03,0.03,0.025,0.025,0.043,0.025,0.02],"hi":[0.035,0.028,0.035,0.045,0.045,0.055,0.105,0.057,0.05,0.05,0.045,0.045,0.067,0.045,0.04]},
{"topic":7,"narrator":"Dawn","chapter":[1,2,3,4,5,6,7,8,9,10,11,12,13,14,15],"p":[0.02,0.01,0.025,0.035,0.035,0.03,0.04,0.04,0.035,0.03,0.035,0.035,0.045,0.045,0.03],"lo":[0.012,0.004,0.017,0.027,0.027,0.022,0.032,0.032,0.027,0.022,0.027,0.027,0.037,0.037,0.022],"hi":[0.028,0.016,0.033,0.043,0.043,0.038,0.048,0.048,0.043,0.038,0.043,0.043,0.053,0.053,0.038]},
{"topic":7,"narrator":"Logan","chapter":[1,2,3,4,5,6,7,8,9,10,11,12,13,14,15],"p":[0.045,0.025,0.015,0.08,0.03,0.04,0.07,0.06,0.04,0.02,0.065,0.025,0.012,0.11,0.02],"lo":[0.025,0.01,0.005,0.045,0.015,0.02,0.04,0.03,0.02,0.008,0.035,0.01,0.004,0.07,0.008],"hi":[0.065,0.04,0.03,0.12,0.05,0.06,0.1,0.11,0.065,0.035,0.095,0.045,0.025,0.15,0.035]},
{"topic":8,"narrator":"Claudia","chapter":[1,2,3,4,5,6,7,8,9,10,11,12,13,14,15],"p":[0.01,0.015,0.02,0.015,0.02,0.02,0.015,0.032,0.02,0.015,0.02,0.02,0.015,0.015,0.015],"lo":[0.006,0.01,0.015,0.01,0.015,0.015,0.01,0.025,0.015,0.01,0.015,0.015,0.01,0.01,0.01],"hi":[0.014,0.02,0.025,0.02,0.025,0.025,0.02,0.039,0.025,0.02,0.025,0.025,0.02,0.02,0.02]},
{"topic":8,"narrator":"Kristy","chapter":[1,2,3,4,5,6,7,8,9,10,11,12,13,14,15],"p":[0.154,0.091,0.134,0.183,0.086,0.184,0.181,0.143,0.123,0.169,0.167,0.147,0.196,0.2,0.176],"lo":[0.142,0.08,0.122,0.17,0.075,0.171,0.168,0.131,0.111,0.157,0.155,0.135,0.183,0.187,0.163],"hi":[0.166,0.102,0.146,0.196,0.097,0.197,0.194,0.155,0.135,0.181,0.179,0.159,0.209,0.213,0.189]},
{"topic":8,"narrator":"Mallory","chapter":[1,2,3,4,5,6,7,8,9,10,11,12,13,14,15],"p":[0.01,0.01,0.01,0.012,0.012,0.012,0.01,0.01,0.012,0.012,0.015,0.01,0.012,0.012,0.012],"lo":[0.006,0.006,0.006,0.008,0.008,0.008,0.006,0.006,0.008,0.008,0.011,0.006,0.008,0.008,0.008],"hi":[0.014,0.014,0.014,0.016,0.016,0.016,0.014,0.014,0.016,0.016,0.019,0.014,0.016,0.016,0.016]},
{"topic":8,"narrator":"Shannon","chapter":[1,2,3,4,5,6,7,8,9,10,11,12,13,14,15],"p":[0.361,0.325,0.127,0.351,0.224,0.385,0.097,0.28,0.437,0.251,0.28,0.115,0.059,0.272,0.194],"lo":[0.32,0.24,0.08,0.3,0.13,0.3,0.04,0.2,0.365,0.15,0.23,0.05,0.03,0.21,0.13],"hi":[0.4,0.41,0.14,0.395,0.32,0.47,0.15,0.35,0.5,0.345,0.32,0.2,0.11,0.33,0.265]},
{"topic":8,"narrator":"Abby","chapter":[1,2,3,4,5,6,7,8,9,10,11,12,13,14,15],"p":[0.018,0.018,0.02,0.018,0.02,0.02,0.018,0.018,0.018,0.016,0.016,0.016,0.016,0.016,0.016],"lo":[0.012,0.012,0.014,0.012,0.014,0.014,0.012,0.012,0.012,0.01,0.01,0.01,0.01,0.01,0.01],"hi":[0.024,0.024,0.026,0.024,0.026,0.026,0.024,0.024,0.024,0.022,0.022,0.022,0.022,0.022,0.022]},
{"topic":8,"narrator":"Stacey","chapter":[1,2,3,4,5,6,7,8,9,10,11,12,13,14,15],"p":[0.01,0.01,0.015,0.015,0.02,0.02,0.015,0.015,0.015,0.015,0.015,0.015,0.012,0.012,0.012],"lo":[0.006,0.006,0.01,0.01,0.015,0.015,0.01,0.01,0.01,0.01,0.01,0.01,0.008,0.008,0.008],"hi":[0.014,0.014,0.02,0.02,0.025,0.025,0.02,0.02,0.02,0.02,0.02,0.02,0.016,0.016,0.016]},
{"topic":8,"narrator":"Jessi","chapter":[1,2,3,4,5,6,7,8,9,10,11,12,13,14,15],"p":[0.01,0.01,0.01,0.012,0.015,0.012,0.01,0.01,0.012,0.015,0.02,0.015,0.015,0.015,0.015],"lo":[0.006,0.006,0.006,0.008,0.01,0.008,0.006,0.006,0.008,0.01,0.014,0.01,0.01,0.01,0.01],"hi":[0.014,0.014,0.014,0.016,0.02,0.016,0.014,0.014,0.016,0.02,0.026,0.02,0.02,0.02,0.02]},
{"topic":8,"narrator":"Mary Anne","chapter":[1,2,3,4,5,6,7,8,9,10,11,12,13,14,15],"p":[0.01,0.01,0.012,0.012,0.015,0.015,0.012,0.012,0.012,0.012,0.012,0.015,0.012,0.01,0.012],"lo":[0.006,0.006,0.008,0.008,0.01,0.01,0.008,0.008,0.008,0.008,0.008,0.01,0.008,0.006,0.008],"hi":[0.014,0.014,0.016,0.016,0.02,0.02,0.016,0.016,0.016,0.016,0.016,0.02,0.016,0.014,0.016]},
{"topic":8,"narrator":"Dawn","chapter":[1,2,3,4,5,6,7,8,9,10,11,12,13,14,15],"p":[0.01,0.01,0.01,0.01,0.01,0.01,0.012,0.012,0.012,0.012,0.015,0.015,0.015,0.015,0.015],"lo":[0.007,0.007,0.007,0.007,0.007,0.007,0.009,0.009,0.009,0.009,0.011,0.011,0.011,0.011,0.011],"hi":[0.013,0.013,0.013,0.013,0.013,0.013,0.015,0.015,0.015,0.015,0.019,0.019,0.019,0.019,0.019]},
{"topic":8,"narrator":"Logan","chapter":[1,2,3,4,5,6,7,8,9,10,11,12,13,14,15],"p":[0.005,0.008,0.01,0.03,0.008,0.01,0.005,0.005,0.008,0.01,0.02,0.01,0.035,0.008,0.022],"lo":[0.002,0.003,0.004,0.012,0.003,0.004,0.002,0.002,0.003,0.004,0.008,0.004,0.015,0.003,0.008],"hi":[0.01,0.015,0.018,0.06,0.015,0.018,0.01,0.01,0.015,0.018,0.04,0.018,0.05,0.015,0.045]},
{"topic":9,"narrator":"Claudia","chapter":[1,2,3,4,5,6,7,8,9,10,11,12,13,14,15],"p":[0.1,0.055,0.15,0.145,0.16,0.155,0.16,0.15,0.155,0.16,0.155,0.165,0.17,0.2,0.16],"lo":[0.085,0.04,0.135,0.13,0.145,0.14,0.145,0.135,0.14,0.145,0.14,0.15,0.155,0.18,0.14],"hi":[0.115,0.07,0.165,0.16,0.175,0.17,0.175,0.165,0.17,0.175,0.17,0.18,0.185,0.22,0.18]},
{"topic":9,"narrator":"Kristy","chapter":[1,2,3,4,5,6,7,8,9,10,11,12,13,14,15],"p":[0.105,0.06,0.14,0.16,0.16,0.16,0.15,0.165,0.16,0.16,0.18,0.18,0.16,0.175,0.16],"lo":[0.09,0.045,0.125,0.145,0.145,0.145,0.135,0.15,0.145,0.145,0.165,0.165,0.145,0.16,0.145],"hi":[0.12,0.075,0.155,0.175,0.175,0.175,0.165,0.18,0.175,0.175,0.195,0.195,0.175,0.19,0.175]},
{"topic":9,"narrator":"Mallory","chapter":[1,2,3,4,5,6,7,8,9,10,11,12,13,14,15],"p":[0.09,0.06,0.14,0.15,0.15,0.15,0.165,0.165,0.17,0.17,0.16,0.185,0.155,0.17,0.125],"lo":[0.075,0.045,0.125,0.135,0.135,0.135,0.15,0.15,0.155,0.155,0.145,0.17,0.14,0.155,0.105],"hi":[0.105,0.075,0.155,0.165,0.165,0.165,0.18,0.18,0.185,0.185,0.175,0.2,0.17,0.185,0.145]},
{"topic":9,"narrator":"Shannon","chapter":[1,2,3,4,5,6,7,8,9,10,11,12,13,14,15],"p":[0.168,0.108,0.068,0.125,0.13,0.183,0.12,0.17,0.1,0.033,0.1,0.135,0.125,0.12,0.145],"lo":[0.1,0.06,0.035,0.085,0.085,0.1,0.06,0.12,0.06,0.012,0.06,0.09,0.05,0.03,0.065],"hi":[0.232,0.2,0.1,0.17,0.18,0.31,0.18,0.255,0.16,0.07,0.15,0.19,0.2,0.2,0.24]},
{"topic":9,"narrator":"Abby","chapter":[1,2,3,4,5,6,7,8,9,10,11,12,13,14,15],"p":[0.13,0.06,0.155,0.195,0.14,0.16,0.175,0.19,0.165,0.16,0.17,0.16,0.18,0.218,0.19],"lo":[0.105,0.04,0.13,0.17,0.115,0.135,0.15,0.165,0.14,0.135,0.145,0.135,0.155,0.19,0.16],"hi":[0.155,0.08,0.18,0.22,0.165,0.185,0.2,0.215,0.19,0.185,0.195,0.185,0.205,0.245,0.22]},
{"topic":9,"narrator":"Stacey","chapter":[1,2,3,4,5,6,7,8,9,10,11,12,13,14,15],"p":[0.095,0.05,0.14,0.15,0.15,0.155,0.15,0.155,0.145,0.155,0.145,0.16,0.16,0.17,0.14],"lo":[0.08,0.035,0.125,0.135,0.135,0.14,0.135,0.14,0.13,0.14,0.13,0.145,0.145,0.155,0.125],"hi":[0.11,0.065,0.155,0.165,0.165,0.17,0.165,0.17,0.16,0.17,0.16,0.175,0.175,0.185,0.155]},
{"topic":9,"narrator":"Jessi","chapter":[1,2,3,4,5,6,7,8,9,10,11,12,13,14,15],"p":[0.1,0.06,0.15,0.155,0.16,0.16,0.16,0.155,0.16,0.145,0.155,0.155,0.175,0.165,0.17],"lo":[0.085,0.045,0.135,0.14,0.145,0.145,0.145,0.14,0.145,0.13,0.14,0.14,0.16,0.15,0.155],"hi":[0.115,0.075,0.165,0.17,0.175,0.175,0.175,0.17,0.175,0.16,0.17,0.17,0.19,0.18,0.185]},
{"topic":9,"narrator":"Mary Anne","chapter":[1,2,3,4,5,6,7,8,9,10,11,12,13,14,15],"p":[0.1,0.05,0.14,0.15,0.155,0.175,0.165,0.155,0.15,0.15,0.15,0.16,0.17,0.165,0.16],"lo":[0.085,0.035,0.125,0.135,0.14,0.1,0.15,0.14,0.135,0.135,0.135,0.145,0.155,0.15,0.145],"hi":[0.115,0.065,0.155,0.165,0.17,0.285,0.18,0.17,0.165,0.165,0.165,0.175,0.185,0.18,0.175]},
{"topic":9,"narrator":"Dawn","chapter":[1,2,3,4,5,6,7,8,9,10,11,12,13,14,15],"p":[0.083,0.075,0.135,0.145,0.15,0.155,0.175,0.165,0.155,0.155,0.16,0.16,0.16,0.17,0.17],"lo":[0.07,0.06,0.12,0.13,0.135,0.14,0.16,0.15,0.14,0.14,0.145,0.145,0.145,0.155,0.155],"hi":[0.096,0.09,0.15,0.16,0.165,0.17,0.19,0.18,0.17,0.17,0.175,0.175,0.175,0.185,0.185]},
{"topic":9,"narrator":"Logan","chapter":[1,2,3,4,5,6,7,8,9,10,11,12,13,14,15],"p":[0.155,0.055,0.183,0.148,0.2,0.228,0.15,0.185,0.185,0.105,0.158,0.155,0.275,0.175,0.15],"lo":[0.1,0.03,0.14,0.11,0.15,0.16,0.1,0.14,0.14,0.065,0.12,0.11,0.22,0.13,0.11],"hi":[0.19,0.08,0.245,0.19,0.25,0.29,0.2,0.235,0.235,0.145,0.21,0.2,0.33,0.22,0.19]},
{"topic":10,"narrator":"Claudia","chapter":[1,2,3,4,5,6,7,8,9,10,11,12,13,14,15],"p":[0.055,0.035,0.03,0.03,0.03,0.025,0.03,0.03,0.03,0.025,0.03,0.04,0.035,0.035,0.025],"lo":[0.045,0.027,0.022,0.022,0.022,0.017,0.022,0.022,0.022,0.017,0.022,0.032,0.027,0.027,0.017],"hi":[0.065,0.043,0.038,0.038,0.038,0.033,0.038,0.038,0.038,0.033,0.038,0.048,0.043,0.043,0.033]},
{"topic":10,"narrator":"Kristy","chapter":[1,2,3,4,5,6,7,8,9,10,11,12,13,14,15],"p":[0.03,0.025,0.03,0.03,0.025,0.03,0.025,0.025,0.025,0.025,0.02,0.025,0.03,0.025,0.025],"lo":[0.022,0.017,0.022,0.022,0.017,0.022,0.017,0.017,0.017,0.017,0.012,0.017,0.022,0.017,0.017],"hi":[0.038,0.033,0.038,0.038,0.033,0.038,0.033,0.033,0.033,0.033,0.028,0.033,0.038,0.033,0.033]},
{"topic":10,"narrator":"Mallory","chapter":[1,2,3,4,5,6,7,8,9,10,11,12,13,14,15],"p":[0.03,0.03,0.035,0.03,0.04,0.03,0.03,0.025,0.03,0.025,0.025,0.03,0.03,0.03,0.03],"lo":[0.022,0.022,0.027,0.022,0.03,0.022,0.022,0.017,0.022,0.017,0.017,0.022,0.022,0.022,0.022],"hi":[0.038,0.038,0.043,0.038,0.05,0.038,0.038,0.033,0.038,0.033,0.033,0.038,0.038,0.038,0.038]},
{"topic":10,"narrator":"Shannon","chapter":[1,2,3,4,5,6,7,8,9,10,11,12,13,14,15],"p":[0.035,0.025,0.045,0.04,0.025,0.02,0.07,0.085,0.005,0.068,0.02,0.035,0.005,0.005,0.015],"lo":[0.015,0.005,0.02,0.015,0.005,0.005,0.04,0.045,0.001,0.02,0.005,0.01,0.001,0.001,0.003],"hi":[0.06,0.045,0.1,0.075,0.05,0.04,0.12,0.13,0.015,0.13,0.04,0.07,0.015,0.015,0.03]},
{"topic":10,"narrator":"Abby","chapter":[1,2,3,4,5,6,7,8,9,10,11,12,13,14,15],"p":[0.025,0.025,0.03,0.03,0.025,0.02,0.025,0.02,0.025,0.03,0.04,0.04,0.035,0.035,0.03],"lo":[0.015,0.015,0.02,0.02,0.015,0.01,0.015,0.01,0.015,0.02,0.03,0.03,0.025,0.025,0.02],"hi":[0.035,0.035,0.04,0.04,0.035,0.03,0.035,0.03,0.035,0.04,0.05,0.05,0.045,0.045,0.04]},
{"topic":10,"narrator":"Stacey","chapter":[1,2,3,4,5,6,7,8,9,10,11,12,13,14,15],"p":[0.03,0.025,0.035,0.03,0.03,0.03,0.03,0.03,0.03,0.025,0.025,0.025,0.03,0.03,0.025],"lo":[0.022,0.017,0.027,0.022,0.022,0.022,0.022,0.022,0.022,0.017,0.017,0.017,0.022,0.022,0.017],"hi":[0.038,0.033,0.043,0.038,0.038,0.038,0.038,0.038,0.038,0.033,0.033,0.033,0.038,0.038,0.033]},
{"topic":10,"narrator":"Jessi","chapter":[1,2,3,4,5,6,7,8,9,10,11,12,13,14,15],"p":[0.02,0.02,0.025,0.03,0.025,0.02,0.02,0.02,0.02,0.02,0.025,0.02,0.025,0.025,0.02],"lo":[0.014,0.014,0.019,0.024,0.019,0.014,0.014,0.014,0.014,0.014,0.019,0.014,0.019,0.019,0.014],"hi":[0.026,0.026,0.031,0.036,0.031,0.026,0.026,0.026,0.026,0.026,0.031,0.026,0.031,0.031,0.026]},
{"topic":10,"narrator":"Mary Anne","chapter":[1,2,3,4,5,6,7,8,9,10,11,12,13,14,15],"p":[0.025,0.025,0.03,0.03,0.03,0.025,0.025,0.025,0.025,0.025,0.025,0.025,0.025,0.025,0.025],"lo":[0.012,0.013,0.018,0.02,0.02,0.015,0.015,0.015,0.015,0.015,0.015,0.015,0.015,0.015,0.015],"hi":[0.045,0.04,0.042,0.04,0.04,0.035,0.035,0.035,0.035,0.035,0.035,0.035,0.035,0.035,0.035]},
{"topic":10,"narrator":"Dawn","chapter":[1,2,3,4,5,6,7,8,9,10,11,12,13,14,15],"p":[0.035,0.035,0.035,0.035,0.032,0.03,0.03,0.03,0.03,0.028,0.028,0.025,0.025,0.025,0.02],"lo":[0.029,0.029,0.029,0.029,0.026,0.024,0.024,0.024,0.024,0.022,0.022,0.019,0.019,0.019,0.014],"hi":[0.041,0.041,0.041,0.041,0.038,0.036,0.036,0.036,0.036,0.034,0.034,0.031,0.031,0.031,0.026]},
{"topic":10,"narrator":"Logan","chapter":[1,2,3,4,5,6,7,8,9,10,11,12,13,14,15],"p":[0.02,0.02,0.02,0.01,0.035,0.02,0.03,0.01,0.02,0.01,0.02,0.015,0.01,0.005,0.005],"lo":[0.008,0.008,0.008,0.003,0.02,0.008,0.015,0.003,0.008,0.003,0.008,0.005,0.003,0.001,0.001],"hi":[0.035,0.035,0.035,0.02,0.055,0.035,0.045,0.02,0.035,0.02,0.035,0.025,0.02,0.01,0.01]},
{"topic":11,"narrator":"Claudia","chapter":[1,2,3,4,5,6,7,8,9,10,11,12,13,14,15],"p":[0.025,0.03,0.03,0.03,0.03,0.03,0.03,0.025,0.03,0.03,0.035,0.03,0.03,0.03,0.03],"lo":[0.018,0.023,0.023,0.023,0.023,0.023,0.023,0.018,0.023,0.023,0.028,0.023,0.023,0.023,0.023],"hi":[0.032,0.037,0.037,0.037,0.037,0.037,0.037,0.032,0.037,0.037,0.042,0.037,0.037,0.037,0.037]},
{"topic":11,"narrator":"Kristy","chapter":[1,2,3,4,5,6,7,8,9,10,11,12,13,14,15],"p":[0.025,0.025,0.03,0.035,0.035,0.03,0.03,0.025,0.025,0.025,0.025,0.03,0.025,0.025,0.025],"lo":[0.018,0.018,0.023,0.028,0.028,0.023,0.023,0.018,0.018,0.018,0.018,0.023,0.018,0.018,0.018],"hi":[0.032,0.032,0.037,0.042,0.042,0.037,0.037,0.032,0.032,0.032,0.032,0.037,0.032,0.032,0.032]},
{"topic":11,"narrator":"Mallory","chapter":[1,2,3,4,5,6,7,8,9,10,11,12,13,14,15],"p":[0.025,0.025,0.02,0.025,0.03,0.03,0.03,0.025,0.03,0.03,0.03,0.035,0.04,0.03,0.03],"lo":[0.018,0.018,0.013,0.018,0.023,0.023,0.023,0.018,0.023,0.023,0.023,0.028,0.032,0.023,0.023],"hi":[0.032,0.032,0.027,0.032,0.037,0.037,0.037,0.032,0.037,0.037,0.037,0.042,0.048,0.037,0.037]},
{"topic":11,"narrator":"Shannon","chapter":[1,2,3,4,5,6,7,8,9,10,11,12,13,14,15],"p":[0.02,0.015,0.03,0.082,0.085,0.005,0.18,0.03,0.005,0.05,0.107,0.005,0.04,0.162,0.133],"lo":[0.005,0.003,0.01,0.04,0.04,0.001,0.13,0.01,0.001,0.02,0.06,0.001,0.015,0.085,0.04],"hi":[0.04,0.035,0.06,0.13,0.14,0.015,0.245,0.06,0.015,0.12,0.17,0.015,0.08,0.26,0.22]},
{"topic":11,"narrator":"Abby","chapter":[1,2,3,4,5,6,7,8,9,10,11,12,13,14,15],"p":[0.02,0.02,0.015,0.02,0.025,0.025,0.02,0.02,0.025,0.025,0.03,0.02,0.025,0.025,0.035],"lo":[0.012,0.012,0.008,0.012,0.017,0.017,0.012,0.012,0.017,0.017,0.022,0.012,0.017,0.017,0.025],"hi":[0.028,0.028,0.022,0.028,0.033,0.033,0.028,0.028,0.033,0.033,0.038,0.028,0.033,0.033,0.045]},
{"topic":11,"narrator":"Stacey","chapter":[1,2,3,4,5,6,7,8,9,10,11,12,13,14,15],"p":[0.02,0.025,0.025,0.025,0.025,0.025,0.025,0.025,0.025,0.025,0.025,0.025,0.025,0.025,0.025],"lo":[0.014,0.019,0.019,0.019,0.019,0.019,0.019,0.019,0.019,0.019,0.019,0.019,0.019,0.019,0.019],"hi":[0.026,0.031,0.031,0.031,0.031,0.031,0.031,0.031,0.031,0.031,0.031,0.031,0.031,0.031,0.031]},
{"topic":11,"narrator":"Jessi","chapter":[1,2,3,4,5,6,7,8,9,10,11,12,13,14,15],"p":[0.015,0.015,0.015,0.015,0.02,0.02,0.02,0.02,0.02,0.025,0.025,0.02,0.02,0.02,0.025],"lo":[0.01,0.01,0.01,0.01,0.014,0.014,0.014,0.014,0.014,0.019,0.019,0.014,0.014,0.014,0.019],"hi":[0.02,0.02,0.02,0.02,0.026,0.026,0.026,0.026,0.026,0.031,0.031,0.026,0.026,0.026,0.031]},
{"topic":11,"narrator":"Mary Anne","chapter":[1,2,3,4,5,6,7,8,9,10,11,12,13,14,15],"p":[0.025,0.03,0.03,0.045,0.06,0.03,0.035,0.03,0.03,0.03,0.035,0.035,0.03,0.03,0.03],"lo":[0.017,0.022,0.022,0.025,0.035,0.022,0.027,0.022,0.022,0.022,0.027,0.027,0.022,0.022,0.022],"hi":[0.033,0.038,0.038,0.08,0.1,0.038,0.043,0.038,0.038,0.038,0.043,0.043,0.038,0.038,0.038]},
{"topic":11,"narrator":"Dawn","chapter":[1,2,3,4,5,6,7,8,9,10,11,12,13,14,15],"p":[0.035,0.035,0.03,0.035,0.04,0.04,0.04,0.045,0.04,0.04,0.035,0.04,0.03,0.03,0.04],"lo":[0.028,0.028,0.023,0.028,0.033,0.033,0.033,0.038,0.033,0.033,0.028,0.033,0.023,0.023,0.033],"hi":[0.042,0.042,0.037,0.042,0.047,0.047,0.047,0.052,0.047,0.047,0.042,0.047,0.037,0.037,0.047]},
{"topic":11,"narrator":"Logan","chapter":[1,2,3,4,5,6,7,8,9,10,11,12,13,14,15],"p":[0.025,0.045,0.035,0.06,0.045,0.015,0.02,0.02,0.03,0.035,0.02,0.045,0.025,0.03,0.035],"lo":[0.012,0.025,0.018,0.035,0.025,0.005,0.008,0.008,0.015,0.015,0.008,0.02,0.01,0.015,0.01],"hi":[0.04,0.07,0.055,0.1,0.07,0.03,0.035,0.035,0.045,0.06,0.04,0.065,0.045,0.05,0.07]},
{"topic":12,"narrator":"Claudia","chapter":[1,2,3,4,5,6,7,8,9,10,11,12,13,14,15],"p":[0.01,0.02,0.01,0.01,0.01,0.015,0.015,0.01,0.01,0.01,0.01,0.01,0.01,0.01,0.01],"lo":[0.005,0.013,0.006,0.006,0.006,0.01,0.01,0.006,0.006,0.006,0.006,0.006,0.006,0.006,0.006],"hi":[0.015,0.027,0.014,0.014,0.014,0.02,0.02,0.014,0.014,0.014,0.014,0.014,0.014,0.014,0.014]},
{"topic":12,"narrator":"Kristy","chapter":[1,2,3,4,5,6,7,8,9,10,11,12,13,14,15],"p":[0.01,0.015,0.01,0.01,0.01,0.01,0.01,0.01,0.015,0.015,0.02,0.01,0.01,0.01,0.01],"lo":[0.006,0.01,0.006,0.006,0.006,0.006,0.006,0.006,0.01,0.01,0.014,0.006,0.006,0.006,0.006],"hi":[0.014,0.02,0.014,0.014,0.014,0.014,0.014,0.014,0.02,0.02,0.026,0.014,0.014,0.014,0.014]},
{"topic":12,"narrator":"Mallory","chapter":[1,2,3,4,5,6,7,8,9,10,11,12,13,14,15],"p":[0.015,0.02,0.015,0.015,0.015,0.015,0.015,0.015,0.015,0.015,0.015,0.015,0.015,0.015,0.015],"lo":[0.01,0.014,0.011,0.011,0.011,0.011,0.011,0.011,0.011,0.011,0.011,0.011,0.011,0.011,0.011],"hi":[0.02,0.026,0.019,0.019,0.019,0.019,0.019,0.019,0.019,0.019,0.019,0.019,0.019,0.019,0.019]},
{"topic":12,"narrator":"Shannon","chapter":[1,2,3,4,5,6,7,8,9,10,11,12,13,14,15],"p":[0.02,0.003,0.043,0.01,0.01,0.01,0.01,0.04,0.01,0.01,0.03,0.005,0.005,0.02,0.056],"lo":[0.005,0.001,0.01,0.003,0.003,0.003,0.003,0.015,0.003,0.003,0.01,0.001,0.001,0.005,0.02],"hi":[0.045,0.01,0.095,0.025,0.025,0.03,0.025,0.075,0.025,0.025,0.065,0.015,0.015,0.05,0.105]},
{"topic":12,"narrator":"Abby","chapter":[1,2,3,4,5,6,7,8,9,10,11,12,13,14,15],"p":[0.008,0.01,0.008,0.008,0.008,0.008,0.008,0.008,0.008,0.008,0.008,0.008,0.008,0.008,0.008],"lo":[0.005,0.006,0.005,0.005,0.005,0.005,0.005,0.005,0.005,0.005,0.005,0.005,0.005,0.005,0.005],"hi":[0.011,0.014,0.011,0.011,0.011,0.011,0.011,0.011,0.011,0.011,0.011,0.011,0.011,0.011,0.011]},
{"topic":12,"narrator":"Stacey","chapter":[1,2,3,4,5,6,7,8,9,10,11,12,13,14,15],"p":[0.015,0.05,0.015,0.01,0.025,0.01,0.01,0.01,0.01,0.01,0.01,0.01,0.01,0.01,0.01],"lo":[0.01,0.035,0.01,0.006,0.018,0.006,0.006,0.006,0.006,0.006,0.006,0.006,0.006,0.006,0.006],"hi":[0.02,0.065,0.02,0.014,0.032,0.014,0.014,0.014,0.014,0.014,0.014,0.014,0.014,0.014,0.014]},
{"topic":12,"narrator":"Jessi","chapter":[1,2,3,4,5,6,7,8,9,10,11,12,13,14,15],"p":[0.01,0.045,0.01,0.01,0.01,0.01,0.01,0.01,0.01,0.01,0.01,0.01,0.015,0.015,0.01],"lo":[0.006,0.03,0.006,0.006,0.006,0.006,0.006,0.006,0.006,0.006,0.006,0.006,0.01,0.01,0.006],"hi":[0.014,0.06,0.014,0.014,0.014,0.014,0.014,0.014,0.014,0.014,0.014,0.014,0.02,0.02,0.014]},
{"topic":12,"narrator":"Mary Anne","chapter":[1,2,3,4,5,6,7,8,9,10,11,12,13,14,15],"p":[0.078,0.04,0.02,0.015,0.02,0.035,0.02,0.02,0.015,0.025,0.03,0.035,0.02,0.018,0.02],"lo":[0.066,0.03,0.012,0.008,0.012,0.025,0.012,0.012,0.008,0.016,0.02,0.025,0.012,0.01,0.012],"hi":[0.092,0.052,0.028,0.022,0.028,0.045,0.028,0.028,0.022,0.034,0.04,0.045,0.028,0.026,0.028]},
{"topic":12,"narrator":"Dawn","chapter":[1,2,3,4,5,6,7,8,9,10,11,12,13,14,15],"p":[0.298,0.155,0.2,0.208,0.161,0.194,0.218,0.17,0.139,0.205,0.2,0.118,0.24,0.245,0.256],"lo":[0.283,0.14,0.187,0.195,0.148,0.181,0.205,0.157,0.126,0.192,0.186,0.104,0.226,0.232,0.24],"hi":[0.313,0.17,0.213,0.221,0.174,0.207,0.231,0.183,0.152,0.218,0.214,0.132,0.254,0.258,0.272]},
{"topic":12,"narrator":"Logan","chapter":[1,2,3,4,5,6,7,8,9,10,11,12,13,14,15],"p":[0.005,0.06,0.005,0.005,0.005,0.005,0.005,0.005,0.005,0.005,0.005,0.005,0.035,0.008,0.008],"lo":[0.002,0.03,0.002,0.002,0.002,0.002,0.002,0.002,0.002,0.002,0.002,0.002,0.015,0.003,0.003],"hi":[0.01,0.1,0.01,0.01,0.01,0.01,0.01,0.01,0.01,0.01,0.01,0.01,0.065,0.015,0.015]},
{"topic":13,"narrator":"Claudia","chapter":[1,2,3,4,5,6,7,8,9,10,11,12,13,14,15],"p":[0.004,0.005,0.005,0.005,0.005,0.005,0.005,0.005,0.005,0.005,0.005,0.005,0.005,0.005,0.005],"lo":[0.002,0.003,0.003,0.003,0.003,0.003,0.003,0.003,0.003,0.003,0.003,0.003,0.003,0.003,0.003],"hi":[0.006,0.007,0.007,0.007,0.007,0.007,0.007,0.007,0.007,0.007,0.007,0.007,0.007,0.007,0.007]},
{"topic":13,"narrator":"Kristy","chapter":[1,2,3,4,5,6,7,8,9,10,11,12,13,14,15],"p":[0.004,0.005,0.005,0.005,0.005,0.005,0.005,0.005,0.005,0.005,0.005,0.005,0.005,0.005,0.008],"lo":[0.002,0.003,0.003,0.003,0.003,0.003,0.003,0.003,0.003,0.003,0.003,0.003,0.003,0.003,0.005],"hi":[0.006,0.007,0.007,0.007,0.007,0.007,0.007,0.007,0.007,0.007,0.007,0.007,0.007,0.007,0.011]},
{"topic":13,"narrator":"Mallory","chapter":[1,2,3,4,5,6,7,8,9,10,11,12,13,14,15],"p":[0.004,0.004,0.005,0.005,0.005,0.005,0.005,0.005,0.005,0.005,0.005,0.005,0.005,0.006,0.006],"lo":[0.002,0.002,0.003,0.003,0.003,0.003,0.003,0.003,0.003,0.003,0.003,0.003,0.003,0.004,0.004],"hi":[0.006,0.006,0.007,0.007,0.007,0.007,0.007,0.007,0.007,0.007,0.007,0.007,0.007,0.008,0.008]},
{"topic":13,"narrator":"Shannon","chapter":[1,2,3,4,5,6,7,8,9,10,11,12,13,14,15],"p":[0.004,0.008,0.004,0.004,0.002,0.002,0.004,0.003,0.003,0.004,0.003,0.004,0.007,0.004,0.004],"lo":[0.001,0.002,0.001,0.001,0.001,0.001,0.001,0.001,0.001,0.001,0.001,0.001,0.002,0.001,0.001],"hi":[0.008,0.016,0.008,0.008,0.005,0.005,0.008,0.006,0.006,0.008,0.006,0.008,0.014,0.008,0.008]},
{"topic":13,"narrator":"Abby","chapter":[1,2,3,4,5,6,7,8,9,10,11,12,13,14,15],"p":[0.004,0.004,0.005,0.008,0.005,0.005,0.005,0.005,0.005,0.005,0.005,0.005,0.005,0.005,0.005],"lo":[0.002,0.002,0.003,0.005,0.003,0.003,0.003,0.003,0.003,0.003,0.003,0.003,0.003,0.003,0.003],"hi":[0.006,0.006,0.007,0.011,0.007,0.007,0.007,0.007,0.007,0.007,0.007,0.007,0.007,0.007,0.007]},
{"topic":13,"narrator":"Stacey","chapter":[1,2,3,4,5,6,7,8,9,10,11,12,13,14,15],"p":[0.004,0.005,0.005,0.005,0.005,0.005,0.006,0.008,0.006,0.005,0.005,0.006,0.008,0.006,0.006],"lo":[0.002,0.003,0.003,0.003,0.003,0.003,0.004,0.006,0.004,0.003,0.003,0.004,0.006,0.004,0.004],"hi":[0.006,0.007,0.007,0.007,0.007,0.007,0.008,0.01,0.008,0.007,0.007,0.008,0.01,0.008,0.008]},
{"topic":13,"narrator":"Jessi","chapter":[1,2,3,4,5,6,7,8,9,10,11,12,13,14,15],"p":[0.004,0.004,0.004,0.004,0.004,0.004,0.004,0.004,0.004,0.004,0.004,0.004,0.004,0.004,0.004],"lo":[0.002,0.002,0.002,0.002,0.002,0.002,0.002,0.002,0.002,0.002,0.002,0.002,0.002,0.002,0.002],"hi":[0.006,0.006,0.006,0.006,0.006,0.006,0.006,0.006,0.006,0.006,0.006,0.006,0.006,0.006,0.006]},
{"topic":13,"narrator":"Mary Anne","chapter":[1,2,3,4,5,6,7,8,9,10,11,12,13,14,15],"p":[0.222,0.117,0.231,0.253,0.185,0.213,0.23,0.227,0.146,0.257,0.205,0.242,0.177,0.257,0.266],"lo":[0.208,0.103,0.217,0.239,0.171,0.199,0.216,0.213,0.132,0.243,0.191,0.228,0.163,0.243,0.252],"hi":[0.236,0.131,0.245,0.267,0.199,0.227,0.244,0.241,0.16,0.271,0.219,0.256,0.191,0.271,0.28]},
{"topic":13,"narrator":"Dawn","chapter":[1,2,3,4,5,6,7,8,9,10,11,12,13,14,15],"p":[0.004,0.004,0.005,0.005,0.005,0.005,0.006,0.008,0.006,0.005,0.005,0.005,0.005,0.006,0.006],"lo":[0.002,0.002,0.003,0.003,0.003,0.003,0.004,0.006,0.004,0.003,0.003,0.003,0.003,0.004,0.004],"hi":[0.006,0.006,0.007,0.007,0.007,0.007,0.008,0.01,0.008,0.007,0.007,0.007,0.007,0.008,0.008]},
{"topic":13,"narrator":"Logan","chapter":[1,2,3,4,5,6,7,8,9,10,11,12,13,14,15],"p":[0.246,0.075,0.231,0.096,0.274,0.187,0.141,0.227,0.323,0.146,0.102,0.245,0.265,0.29,0.162],"lo":[0.2,0.05,0.175,0.06,0.22,0.14,0.09,0.17,0.29,0.085,0.04,0.2,0.21,0.245,0.115],"hi":[0.27,0.1,0.285,0.135,0.32,0.235,0.19,0.28,0.35,0.21,0.17,0.29,0.31,0.325,0.21]},
{"topic":14,"narrator":"Claudia","chapter":[1,2,3,4,5,6,7,8,9,10,11,12,13,14,15],"p":[0.2,0.12,0.15,0.15,0.14,0.15,0.14,0.15,0.15,0.16,0.16,0.15,0.15,0.15,0.14],"lo":[0.16,0.1,0.13,0.13,0.12,0.13,0.12,0.13,0.13,0.14,0.14,0.13,0.13,0.13,0.12],"hi":[0.24,0.14,0.17,0.17,0.16,0.17,0.16,0.17,0.17,0.18,0.18,0.17,0.17,0.17,0.16]},
{"topic":14,"narrator":"Kristy","chapter":[1,2,3,4,5,6,7,8,9,10,11,12,13,14,15],"p":[0.15,0.1,0.14,0.16,0.14,0.15,0.15,0.155,0.15,0.15,0.16,0.15,0.15,0.15,0.16],"lo":[0.135,0.085,0.125,0.145,0.125,0.135,0.135,0.14,0.135,0.135,0.145,0.135,0.135,0.135,0.145],"hi":[0.165,0.115,0.155,0.175,0.155,0.165,0.165,0.17,0.165,0.165,0.175,0.165,0.165,0.165,0.175]},
{"topic":14,"narrator":"Mallory","chapter":[1,2,3,4,5,6,7,8,9,10,11,12,13,14,15],"p":[0.14,0.08,0.13,0.13,0.15,0.16,0.165,0.165,0.15,0.15,0.15,0.14,0.145,0.14,0.14],"lo":[0.125,0.065,0.115,0.115,0.135,0.145,0.15,0.15,0.135,0.135,0.135,0.125,0.13,0.125,0.125],"hi":[0.155,0.095,0.145,0.145,0.165,0.175,0.18,0.18,0.165,0.165,0.165,0.155,0.16,0.155,0.155]},
{"topic":14,"narrator":"Shannon","chapter":[1,2,3,4,5,6,7,8,9,10,11,12,13,14,15],"p":[0.161,0.227,0.149,0.19,0.157,0.249,0.161,0.172,0.334,0.201,0.19,0.085,0.143,0.253,0.253],"lo":[0.095,0.14,0.09,0.13,0.1,0.15,0.11,0.12,0.27,0.14,0.12,0.045,0.05,0.16,0.15],"hi":[0.25,0.32,0.19,0.26,0.21,0.36,0.23,0.25,0.395,0.29,0.25,0.2,0.25,0.35,0.355]},
{"topic":14,"narrator":"Abby","chapter":[1,2,3,4,5,6,7,8,9,10,11,12,13,14,15],"p":[0.2,0.12,0.14,0.14,0.15,0.14,0.15,0.14,0.195,0.16,0.16,0.16,0.16,0.15,0.16],"lo":[0.17,0.1,0.12,0.12,0.13,0.12,0.13,0.12,0.17,0.14,0.14,0.14,0.14,0.13,0.135],"hi":[0.23,0.14,0.16,0.16,0.17,0.16,0.17,0.16,0.22,0.18,0.18,0.18,0.18,0.17,0.185]},
{"topic":14,"narrator":"Stacey","chapter":[1,2,3,4,5,6,7,8,9,10,11,12,13,14,15],"p":[0.16,0.1,0.15,0.15,0.15,0.14,0.16,0.18,0.15,0.155,0.16,0.15,0.15,0.15,0.18],"lo":[0.14,0.08,0.13,0.13,0.13,0.12,0.14,0.16,0.13,0.135,0.14,0.13,0.13,0.13,0.16],"hi":[0.18,0.12,0.17,0.17,0.17,0.16,0.18,0.2,0.17,0.175,0.18,0.17,0.17,0.17,0.2]},
{"topic":14,"narrator":"Jessi","chapter":[1,2,3,4,5,6,7,8,9,10,11,12,13,14,15],"p":[0.15,0.09,0.14,0.15,0.17,0.16,0.16,0.16,0.16,0.165,0.17,0.17,0.18,0.15,0.15],"lo":[0.135,0.075,0.125,0.135,0.155,0.145,0.145,0.145,0.145,0.15,0.155,0.155,0.165,0.135,0.135],"hi":[0.165,0.105,0.155,0.165,0.185,0.175,0.175,0.175,0.175,0.18,0.185,0.185,0.195,0.165,0.165]},
{"topic":14,"narrator":"Mary Anne","chapter":[1,2,3,4,5,6,7,8,9,10,11,12,13,14,15],"p":[0.14,0.1,0.13,0.13,0.13,0.125,0.14,0.15,0.15,0.155,0.15,0.145,0.14,0.15,0.15],"lo":[0.11,0.08,0.11,0.11,0.11,0.105,0.12,0.13,0.13,0.135,0.13,0.125,0.12,0.13,0.13],"hi":[0.17,0.12,0.15,0.15,0.15,0.145,0.16,0.17,0.17,0.175,0.17,0.165,0.16,0.17,0.17]},
{"topic":14,"narrator":"Dawn","chapter":[1,2,3,4,5,6,7,8,9,10,11,12,13,14,15],"p":[0.13,0.095,0.14,0.14,0.13,0.14,0.145,0.15,0.14,0.16,0.15,0.15,0.15,0.16,0.14],"lo":[0.115,0.08,0.125,0.125,0.115,0.125,0.13,0.135,0.125,0.145,0.135,0.135,0.135,0.145,0.125],"hi":[0.145,0.11,0.155,0.155,0.145,0.155,0.16,0.165,0.155,0.175,0.165,0.165,0.165,0.175,0.155]},
{"topic":14,"narrator":"Logan","chapter":[1,2,3,4,5,6,7,8,9,10,11,12,13,14,15],"p":[0.2,0.118,0.16,0.14,0.092,0.155,0.14,0.07,0.21,0.175,0.105,0.17,0.11,0.22,0.09],"lo":[0.14,0.08,0.11,0.09,0.06,0.11,0.09,0.04,0.16,0.12,0.045,0.12,0.065,0.15,0.05],"hi":[0.245,0.16,0.22,0.19,0.13,0.21,0.19,0.12,0.265,0.22,0.15,0.22,0.16,0.27,0.14]},
{"topic":15,"narrator":"Claudia","chapter":[1,2,3,4,5,6,7,8,9,10,11,12,13,14,15],"p":[0.005,0.008,0.005,0.008,0.01,0.01,0.008,0.005,0.005,0.008,0.01,0.005,0.005,0.005,0.005],"lo":[0.002,0.005,0.002,0.005,0.007,0.007,0.005,0.002,0.002,0.005,0.007,0.002,0.002,0.002,0.002],"hi":[0.008,0.011,0.008,0.011,0.013,0.013,0.011,0.008,0.008,0.011,0.013,0.008,0.008,0.008,0.008]},
{"topic":15,"narrator":"Kristy","chapter":[1,2,3,4,5,6,7,8,9,10,11,12,13,14,15],"p":[0.008,0.008,0.01,0.01,0.012,0.01,0.01,0.012,0.01,0.008,0.01,0.008,0.008,0.008,0.008],"lo":[0.005,0.005,0.007,0.007,0.009,0.007,0.007,0.009,0.007,0.005,0.007,0.005,0.005,0.005,0.005],"hi":[0.011,0.011,0.013,0.013,0.015,0.013,0.013,0.015,0.013,0.011,0.013,0.011,0.011,0.011,0.011]},
{"topic":15,"narrator":"Mallory","chapter":[1,2,3,4,5,6,7,8,9,10,11,12,13,14,15],"p":[0.023,0.015,0.018,0.025,0.027,0.018,0.02,0.02,0.015,0.02,0.017,0.03,0.033,0.025,0.018],"lo":[0.017,0.009,0.012,0.019,0.021,0.012,0.014,0.014,0.009,0.014,0.011,0.024,0.027,0.019,0.012],"hi":[0.029,0.021,0.024,0.031,0.033,0.024,0.026,0.026,0.021,0.026,0.023,0.036,0.039,0.031,0.024]},
{"topic":15,"narrator":"Shannon","chapter":[1,2,3,4,5,6,7,8,9,10,11,12,13,14,15],"p":[0.003,0.003,0.003,0.003,0.003,0.003,0.003,0.003,0.003,0.003,0.003,0.003,0.003,0.003,0.003],"lo":[0.001,0.001,0.001,0.001,0.001,0.001,0.001,0.001,0.001,0.001,0.001,0.001,0.001,0.001,0.001],"hi":[0.006,0.006,0.006,0.006,0.006,0.006,0.006,0.006,0.006,0.006,0.006,0.006,0.006,0.006,0.006]},
{"topic":15,"narrator":"Abby","chapter":[1,2,3,4,5,6,7,8,9,10,11,12,13,14,15],"p":[0.008,0.01,0.008,0.008,0.008,0.008,0.008,0.008,0.008,0.008,0.008,0.008,0.005,0.005,0.005],"lo":[0.005,0.006,0.005,0.005,0.005,0.005,0.005,0.005,0.005,0.005,0.005,0.005,0.003,0.003,0.003],"hi":[0.011,0.014,0.011,0.011,0.011,0.011,0.011,0.011,0.011,0.011,0.011,0.011,0.007,0.007,0.007]},
{"topic":15,"narrator":"Stacey","chapter":[1,2,3,4,5,6,7,8,9,10,11,12,13,14,15],"p":[0.008,0.008,0.008,0.008,0.008,0.008,0.012,0.008,0.01,0.01,0.01,0.012,0.008,0.008,0.008],"lo":[0.005,0.005,0.005,0.005,0.005,0.005,0.009,0.005,0.007,0.007,0.007,0.009,0.005,0.005,0.005],"hi":[0.011,0.011,0.011,0.011,0.011,0.011,0.015,0.011,0.013,0.013,0.013,0.015,0.011,0.011,0.011]},
{"topic":15,"narrator":"Jessi","chapter":[1,2,3,4,5,6,7,8,9,10,11,12,13,14,15],"p":[0.35,0.088,0.272,0.22,0.192,0.216,0.229,0.2,0.141,0.235,0.272,0.263,0.214,0.27,0.304],"lo":[0.335,0.075,0.258,0.206,0.178,0.202,0.215,0.186,0.127,0.221,0.255,0.247,0.2,0.254,0.286],"hi":[0.365,0.1,0.288,0.234,0.206,0.23,0.243,0.214,0.155,0.249,0.288,0.279,0.228,0.286,0.322]},
{"topic":15,"narrator":"Mary Anne","chapter":[1,2,3,4,5,6,7,8,9,10,11,12,13,14,15],"p":[0.01,0.01,0.008,0.01,0.01,0.012,0.015,0.01,0.02,0.01,0.012,0.01,0.01,0.01,0.01],"lo":[0.006,0.006,0.004,0.006,0.006,0.008,0.011,0.006,0.016,0.006,0.008,0.006,0.006,0.006,0.006],"hi":[0.014,0.014,0.012,0.014,0.014,0.016,0.019,0.014,0.024,0.014,0.016,0.014,0.014,0.014,0.014]},
{"topic":15,"narrator":"Dawn","chapter":[1,2,3,4,5,6,7,8,9,10,11,12,13,14,15],"p":[0.01,0.012,0.01,0.01,0.01,0.01,0.01,0.028,0.01,0.005,0.01,0.01,0.01,0.008,0.008],"lo":[0.007,0.009,0.007,0.007,0.007,0.007,0.007,0.022,0.007,0.003,0.007,0.007,0.007,0.005,0.005],"hi":[0.013,0.015,0.013,0.013,0.013,0.013,0.013,0.034,0.013,0.007,0.013,0.013,0.013,0.011,0.011]},
{"topic":15,"narrator":"Logan","chapter":[1,2,3,4,5,6,7,8,9,10,11,12,13,14,15],"p":[0.005,0.01,0.005,0.01,0.005,0.005,0.035,0.005,0.005,0.02,0.015,0.005,0.005,0.005,0.022],"lo":[0.002,0.004,0.002,0.004,0.002,0.002,0.015,0.002,0.002,0.008,0.006,0.002,0.002,0.002,0.01],"hi":[0.01,0.018,0.01,0.018,0.01,0.01,0.06,0.01,0.01,0.04,0.04,0.01,0.01,0.01,0.055]},
{"topic":16,"narrator":"Claudia","chapter":[1,2,3,4,5,6,7,8,9,10,11,12,13,14,15],"p":[0.03,0.015,0.04,0.04,0.05,0.045,0.04,0.045,0.04,0.045,0.05,0.045,0.04,0.04,0.04],"lo":[0.02,0.008,0.03,0.03,0.04,0.035,0.03,0.035,0.03,0.035,0.04,0.035,0.03,0.03,0.03],"hi":[0.04,0.022,0.05,0.05,0.06,0.055,0.05,0.055,0.05,0.055,0.06,0.055,0.05,0.05,0.05]},
{"topic":16,"narrator":"Kristy","chapter":[1,2,3,4,5,6,7,8,9,10,11,12,13,14,15],"p":[0.045,0.02,0.04,0.04,0.035,0.05,0.045,0.04,0.045,0.05,0.045,0.05,0.045,0.045,0.04],"lo":[0.035,0.012,0.03,0.03,0.025,0.04,0.035,0.03,0.035,0.04,0.035,0.04,0.035,0.035,0.03],"hi":[0.055,0.028,0.05,0.05,0.045,0.06,0.055,0.05,0.055,0.06,0.055,0.06,0.055,0.055,0.05]},
{"topic":16,"narrator":"Mallory","chapter":[1,2,3,4,5,6,7,8,9,10,11,12,13,14,15],"p":[0.025,0.02,0.02,0.04,0.045,0.04,0.04,0.04,0.04,0.04,0.04,0.04,0.04,0.05,0.045],"lo":[0.017,0.012,0.012,0.03,0.035,0.03,0.03,0.03,0.03,0.03,0.03,0.03,0.03,0.04,0.035],"hi":[0.033,0.028,0.028,0.05,0.055,0.05,0.05,0.05,0.05,0.05,0.05,0.05,0.05,0.06,0.055]},
{"topic":16,"narrator":"Shannon","chapter":[1,2,3,4,5,6,7,8,9,10,11,12,13,14,15],"p":[0.048,0.068,0.012,0.03,0.035,0.035,0.04,0.02,0.01,0.028,0.095,0.03,0.13,0.035,0.04],"lo":[0.02,0.02,0.004,0.01,0.012,0.008,0.015,0.005,0.002,0.005,0.05,0.01,0.04,0.008,0.015],"hi":[0.075,0.145,0.025,0.05,0.06,0.095,0.09,0.04,0.02,0.05,0.14,0.055,0.255,0.07,0.105]},
{"topic":16,"narrator":"Abby","chapter":[1,2,3,4,5,6,7,8,9,10,11,12,13,14,15],"p":[0.03,0.02,0.035,0.04,0.095,0.035,0.045,0.045,0.04,0.04,0.085,0.05,0.045,0.045,0.07],"lo":[0.015,0.008,0.02,0.025,0.07,0.02,0.03,0.03,0.025,0.025,0.065,0.035,0.03,0.03,0.05],"hi":[0.045,0.032,0.05,0.055,0.12,0.05,0.06,0.06,0.055,0.055,0.11,0.065,0.06,0.06,0.095]},
{"topic":16,"narrator":"Stacey","chapter":[1,2,3,4,5,6,7,8,9,10,11,12,13,14,15],"p":[0.045,0.025,0.062,0.072,0.04,0.05,0.065,0.055,0.055,0.055,0.065,0.07,0.055,0.055,0.055],"lo":[0.033,0.015,0.05,0.06,0.028,0.038,0.053,0.043,0.043,0.043,0.053,0.058,0.043,0.043,0.043],"hi":[0.057,0.035,0.074,0.084,0.052,0.062,0.077,0.067,0.067,0.067,0.077,0.082,0.067,0.067,0.067]},
{"topic":16,"narrator":"Jessi","chapter":[1,2,3,4,5,6,7,8,9,10,11,12,13,14,15],"p":[0.03,0.03,0.04,0.035,0.03,0.045,0.035,0.04,0.035,0.045,0.045,0.04,0.04,0.04,0.035],"lo":[0.02,0.02,0.03,0.025,0.02,0.035,0.025,0.03,0.025,0.035,0.035,0.03,0.03,0.03,0.025],"hi":[0.04,0.04,0.05,0.045,0.04,0.055,0.045,0.05,0.045,0.055,0.055,0.05,0.05,0.05,0.045]},
{"topic":16,"narrator":"Mary Anne","chapter":[1,2,3,4,5,6,7,8,9,10,11,12,13,14,15],"p":[0.04,0.025,0.04,0.05,0.045,0.045,0.05,0.05,0.045,0.05,0.05,0.06,0.05,0.05,0.05],"lo":[0.028,0.015,0.028,0.038,0.033,0.033,0.038,0.038,0.033,0.038,0.038,0.048,0.038,0.038,0.038],"hi":[0.052,0.035,0.052,0.062,0.057,0.057,0.062,0.062,0.057,0.062,0.062,0.072,0.062,0.062,0.062]},
{"topic":16,"narrator":"Dawn","chapter":[1,2,3,4,5,6,7,8,9,10,11,12,13,14,15],"p":[0.03,0.025,0.045,0.045,0.035,0.045,0.04,0.04,0.045,0.05,0.05,0.055,0.05,0.045,0.045],"lo":[0.02,0.015,0.035,0.035,0.025,0.035,0.03,0.03,0.035,0.04,0.04,0.045,0.04,0.035,0.035],"hi":[0.04,0.035,0.055,0.055,0.045,0.055,0.05,0.05,0.055,0.06,0.06,0.065,0.06,0.055,0.055]},
{"topic":16,"narrator":"Logan","chapter":[1,2,3,4,5,6,7,8,9,10,11,12,13,14,15],"p":[0.035,0.015,0.05,0.01,0.09,0.015,0.025,0.16,0.023,0.058,0.04,0.115,0.04,0.035,0.065],"lo":[0.015,0.005,0.025,0.003,0.05,0.005,0.01,0.1,0.01,0.03,0.01,0.07,0.015,0.015,0.035],"hi":[0.055,0.03,0.09,0.02,0.13,0.03,0.045,0.225,0.04,0.1,0.08,0.165,0.065,0.06,0.095]},
{"topic":17,"narrator":"Claudia","chapter":[1,2,3,4,5,6,7,8,9,10,11,12,13,14,15],"p":[0.01,0.01,0.025,0.03,0.045,0.045,0.03,0.06,0.055,0.04,0.02,0.035,0.03,0.025,0.015],"lo":[0.004,0.004,0.015,0.02,0.035,0.035,0.02,0.048,0.043,0.03,0.012,0.025,0.02,0.015,0.008],"hi":[0.016,0.016,0.035,0.04,0.055,0.055,0.04,0.072,0.067,0.05,0.028,0.045,0.04,0.035,0.022]},
{"topic":17,"narrator":"Kristy","chapter":[1,2,3,4,5,6,7,8,9,10,11,12,13,14,15],"p":[0.012,0.015,0.02,0.025,0.08,0.03,0.02,0.035,0.05,0.035,0.035,0.04,0.02,0.03,0.015],"lo":[0.005,0.008,0.012,0.015,0.065,0.02,0.012,0.025,0.04,0.025,0.025,0.03,0.012,0.02,0.008],"hi":[0.019,0.022,0.028,0.035,0.095,0.04,0.028,0.045,0.06,0.045,0.045,0.05,0.028,0.04,0.022]},
{"topic":17,"narrator":"Mallory","chapter":[1,2,3,4,5,6,7,8,9,10,11,12,13,14,15],"p":[0.11,0.02,0.04,0.072,0.07,0.045,0.04,0.07,0.09,0.085,0.045,0.085,0.065,0.077,0.047],"lo":[0.09,0.012,0.028,0.06,0.058,0.033,0.028,0.058,0.078,0.073,0.033,0.073,0.053,0.065,0.035],"hi":[0.13,0.028,0.052,0.084,0.082,0.057,0.052,0.082,0.102,0.097,0.057,0.097,0.077,0.089,0.059]},
{"topic":17,"narrator":"Shannon","chapter":[1,2,3,4,5,6,7,8,9,10,11,12,13,14,15],"p":[0.008,0.005,0.005,0.005,0.007,0.008,0.05,0.008,0.003,0.02,0.007,0.065,0.04,0.005,0.005],"lo":[0.002,0.001,0.001,0.001,0.002,0.002,0.015,0.002,0.001,0.005,0.002,0.03,0.015,0.001,0.001],"hi":[0.02,0.012,0.012,0.012,0.015,0.02,0.105,0.02,0.008,0.045,0.015,0.1,0.075,0.012,0.012]},
{"topic":17,"narrator":"Abby","chapter":[1,2,3,4,5,6,7,8,9,10,11,12,13,14,15],"p":[0.01,0.015,0.02,0.035,0.05,0.1,0.045,0.09,0.06,0.03,0.03,0.05,0.05,0.01,0.015],"lo":[0.004,0.007,0.01,0.02,0.035,0.075,0.03,0.07,0.045,0.018,0.018,0.035,0.035,0.004,0.007],"hi":[0.016,0.023,0.03,0.05,0.065,0.125,0.06,0.11,0.075,0.042,0.042,0.065,0.065,0.016,0.023]},
{"topic":17,"narrator":"Stacey","chapter":[1,2,3,4,5,6,7,8,9,10,11,12,13,14,15],"p":[0.015,0.015,0.025,0.04,0.06,0.05,0.035,0.045,0.055,0.03,0.035,0.035,0.04,0.03,0.02],"lo":[0.007,0.007,0.015,0.03,0.05,0.04,0.025,0.035,0.045,0.02,0.025,0.025,0.03,0.02,0.012],"hi":[0.023,0.023,0.035,0.05,0.07,0.06,0.045,0.055,0.065,0.04,0.045,0.045,0.05,0.04,0.028]},
{"topic":17,"narrator":"Jessi","chapter":[1,2,3,4,5,6,7,8,9,10,11,12,13,14,15],"p":[0.02,0.01,0.02,0.04,0.055,0.06,0.065,0.065,0.07,0.065,0.035,0.04,0.05,0.04,0.02],"lo":[0.01,0.004,0.01,0.028,0.043,0.048,0.05,0.05,0.055,0.05,0.023,0.028,0.038,0.028,0.01],"hi":[0.03,0.016,0.03,0.052,0.067,0.072,0.08,0.08,0.085,0.08,0.047,0.052,0.062,0.052,0.03]},
{"topic":17,"narrator":"Mary Anne","chapter":[1,2,3,4,5,6,7,8,9,10,11,12,13,14,15],"p":[0.015,0.015,0.025,0.04,0.05,0.05,0.03,0.06,0.1,0.02,0.04,0.05,0.055,0.03,0.02],"lo":[0.007,0.007,0.015,0.028,0.038,0.038,0.018,0.045,0.08,0.01,0.028,0.038,0.043,0.018,0.01],"hi":[0.023,0.023,0.035,0.052,0.062,0.062,0.042,0.075,0.12,0.03,0.052,0.062,0.067,0.042,0.03]},
{"topic":17,"narrator":"Dawn","chapter":[1,2,3,4,5,6,7,8,9,10,11,12,13,14,15],"p":[0.04,0.02,0.025,0.045,0.12,0.045,0.045,0.05,0.118,0.04,0.05,0.117,0.09,0.05,0.025],"lo":[0.028,0.012,0.015,0.033,0.105,0.033,0.033,0.038,0.1,0.028,0.038,0.102,0.075,0.038,0.015],"hi":[0.052,0.028,0.035,0.057,0.135,0.057,0.057,0.062,0.136,0.052,0.062,0.132,0.105,0.062,0.035]},
{"topic":17,"narrator":"Logan","chapter":[1,2,3,4,5,6,7,8,9,10,11,12,13,14,15],"p":[0.008,0.008,0.008,0.008,0.105,0.005,0.01,0.14,0.005,0.2,0.2,0.04,0.007,0.02,0.02],"lo":[0.003,0.003,0.003,0.003,0.06,0.002,0.004,0.09,0.002,0.11,0.1,0.02,0.002,0.008,0.008],"hi":[0.015,0.015,0.015,0.015,0.15,0.01,0.02,0.2,0.01,0.3,0.28,0.06,0.015,0.035,0.035]},
{"topic":18,"narrator":"Claudia","chapter":[1,2,3,4,5,6,7,8,9,10,11,12,13,14,15],"p":[0.1,0.2,0.035,0.02,0.02,0.015,0.015,0.015,0.015,0.02,0.015,0.015,0.015,0.015,0.015],"lo":[0.08,0.17,0.025,0.013,0.013,0.01,0.01,0.01,0.01,0.013,0.01,0.01,0.01,0.01,0.01],"hi":[0.12,0.23,0.045,0.027,0.027,0.02,0.02,0.02,0.02,0.027,0.02,0.02,0.02,0.02,0.02]},
{"topic":18,"narrator":"Kristy","chapter":[1,2,3,4,5,6,7,8,9,10,11,12,13,14,15],"p":[0.085,0.19,0.07,0.025,0.02,0.02,0.02,0.02,0.02,0.02,0.02,0.02,0.015,0.015,0.015],"lo":[0.065,0.16,0.055,0.019,0.014,0.014,0.014,0.014,0.014,0.014,0.014,0.014,0.009,0.009,0.009],"hi":[0.105,0.22,0.085,0.031,0.026,0.026,0.026,0.026,0.026,0.026,0.026,0.026,0.021,0.021,0.021]},
{"topic":18,"narrator":"Mallory","chapter":[1,2,3,4,5,6,7,8,9,10,11,12,13,14,15],"p":[0.125,0.2,0.03,0.025,0.02,0.02,0.02,0.02,0.015,0.015,0.015,0.015,0.015,0.015,0.02],"lo":[0.105,0.17,0.015,0.019,0.014,0.014,0.014,0.014,0.009,0.009,0.009,0.009,0.009,0.009,0.014],"hi":[0.145,0.23,0.045,0.031,0.026,0.026,0.026,0.026,0.021,0.021,0.021,0.021,0.021,0.021,0.026]},
{"topic":18,"narrator":"Shannon","chapter":[1,2,3,4,5,6,7,8,9,10,11,12,13,14,15],"p":[0.047,0.11,0.128,0.025,0.025,0.008,0.008,0.005,0.012,0.043,0.02,0.015,0.02,0.015,0.005],"lo":[0.012,0.05,0.05,0.01,0.01,0.002,0.002,0.001,0.004,0.015,0.006,0.004,0.008,0.004,0.001],"hi":[0.08,0.2,0.21,0.05,0.045,0.02,0.02,0.015,0.025,0.08,0.04,0.03,0.04,0.03,0.015]},
{"topic":18,"narrator":"Abby","chapter":[1,2,3,4,5,6,7,8,9,10,11,12,13,14,15],"p":[0.12,0.22,0.09,0.02,0.02,0.02,0.02,0.02,0.02,0.015,0.02,0.015,0.02,0.015,0.02],"lo":[0.1,0.19,0.065,0.014,0.014,0.014,0.014,0.014,0.014,0.009,0.014,0.009,0.014,0.009,0.014],"hi":[0.14,0.25,0.115,0.026,0.026,0.026,0.026,0.026,0.026,0.021,0.026,0.021,0.026,0.021,0.026]},
{"topic":18,"narrator":"Stacey","chapter":[1,2,3,4,5,6,7,8,9,10,11,12,13,14,15],"p":[0.145,0.2,0.06,0.025,0.02,0.02,0.02,0.02,0.02,0.015,0.02,0.02,0.02,0.02,0.02],"lo":[0.125,0.17,0.045,0.019,0.014,0.014,0.014,0.014,0.014,0.009,0.014,0.014,0.014,0.014,0.014],"hi":[0.165,0.23,0.075,0.031,0.026,0.026,0.026,0.026,0.026,0.021,0.026,0.026,0.026,0.026,0.026]},
{"topic":18,"narrator":"Jessi","chapter":[1,2,3,4,5,6,7,8,9,10,11,12,13,14,15],"p":[0.13,0.24,0.08,0.025,0.025,0.025,0.02,0.02,0.035,0.02,0.02,0.02,0.02,0.015,0.015],"lo":[0.11,0.21,0.065,0.019,0.019,0.019,0.014,0.014,0.025,0.014,0.014,0.014,0.014,0.009,0.009],"hi":[0.15,0.27,0.095,0.031,0.031,0.031,0.026,0.026,0.045,0.026,0.026,0.026,0.026,0.021,0.021]},
{"topic":18,"narrator":"Mary Anne","chapter":[1,2,3,4,5,6,7,8,9,10,11,12,13,14,15],"p":[0.15,0.21,0.05,0.025,0.03,0.025,0.02,0.02,0.025,0.02,0.02,0.02,0.02,0.02,0.02],"lo":[0.13,0.18,0.035,0.019,0.02,0.019,0.014,0.014,0.019,0.014,0.014,0.014,0.014,0.014,0.014],"hi":[0.17,0.24,0.065,0.031,0.04,0.031,0.026,0.026,0.031,0.026,0.026,0.026,0.026,0.026,0.026]},
{"topic":18,"narrator":"Dawn","chapter":[1,2,3,4,5,6,7,8,9,10,11,12,13,14,15],"p":[0.11,0.185,0.04,0.02,0.02,0.015,0.015,0.02,0.015,0.015,0.015,0.015,0.015,0.015,0.02],"lo":[0.09,0.155,0.025,0.014,0.014,0.009,0.009,0.014,0.009,0.009,0.009,0.009,0.009,0.009,0.014],"hi":[0.13,0.215,0.055,0.026,0.026,0.021,0.021,0.026,0.021,0.021,0.021,0.021,0.021,0.021,0.026]},
{"topic":18,"narrator":"Logan","chapter":[1,2,3,4,5,6,7,8,9,10,11,12,13,14,15],"p":[0.09,0.26,0.018,0.018,0.025,0.02,0.048,0.02,0.02,0.025,0.043,0.008,0.015,0.015,0.015],"lo":[0.06,0.2,0.005,0.005,0.01,0.008,0.02,0.008,0.008,0.01,0.015,0.003,0.005,0.005,0.005],"hi":[0.12,0.33,0.03,0.03,0.04,0.035,0.09,0.035,0.035,0.045,0.08,0.015,0.025,0.025,0.025]},
{"topic":19,"narrator":"Claudia","chapter":[1,2,3,4,5,6,7,8,9,10,11,12,13,14,15],"p":[0.005,0.01,0.005,0.012,0.01,0.01,0.01,0.015,0.01,0.008,0.005,0.005,0.005,0.005,0.005],"lo":[0.002,0.007,0.002,0.009,0.007,0.007,0.007,0.012,0.007,0.005,0.002,0.002,0.002,0.002,0.002],"hi":[0.008,0.013,0.008,0.015,0.013,0.013,0.013,0.018,0.013,0.011,0.008,0.008,0.008,0.008,0.008]},
{"topic":19,"narrator":"Kristy","chapter":[1,2,3,4,5,6,7,8,9,10,11,12,13,14,15],"p":[0.005,0.008,0.005,0.005,0.01,0.02,0.012,0.015,0.01,0.005,0.005,0.005,0.018,0.018,0.008],"lo":[0.002,0.005,0.002,0.002,0.006,0.015,0.008,0.011,0.006,0.002,0.002,0.002,0.013,0.013,0.005],"hi":[0.008,0.011,0.008,0.008,0.014,0.025,0.016,0.019,0.014,0.008,0.008,0.008,0.023,0.023,0.011]},
{"topic":19,"narrator":"Mallory","chapter":[1,2,3,4,5,6,7,8,9,10,11,12,13,14,15],"p":[0.005,0.005,0.005,0.005,0.005,0.005,0.005,0.005,0.008,0.005,0.005,0.005,0.005,0.005,0.005],"lo":[0.003,0.003,0.003,0.003,0.003,0.003,0.003,0.003,0.005,0.003,0.003,0.003,0.003,0.003,0.003],"hi":[0.007,0.007,0.007,0.007,0.007,0.007,0.007,0.007,0.011,0.007,0.007,0.007,0.007,0.007,0.007]},
{"topic":19,"narrator":"Shannon","chapter":[1,2,3,4,5,6,7,8,9,10,11,12,13,14,15],"p":[0.005,0.005,0.005,0.005,0.005,0.005,0.005,0.005,0.005,0.005,0.005,0.005,0.005,0.005,0.022],"lo":[0.002,0.002,0.002,0.002,0.002,0.002,0.002,0.002,0.002,0.002,0.002,0.002,0.002,0.002,0.008],"hi":[0.01,0.01,0.01,0.01,0.01,0.01,0.01,0.01,0.01,0.01,0.01,0.01,0.01,0.01,0.047]},
{"topic":19,"narrator":"Abby","chapter":[1,2,3,4,5,6,7,8,9,10,11,12,13,14,15],"p":[0.327,0.107,0.203,0.244,0.114,0.224,0.283,0.147,0.162,0.237,0.174,0.224,0.315,0.221,0.254],"lo":[0.31,0.09,0.185,0.225,0.095,0.205,0.262,0.125,0.14,0.22,0.155,0.205,0.295,0.19,0.225],"hi":[0.345,0.125,0.22,0.265,0.13,0.24,0.305,0.17,0.18,0.255,0.19,0.245,0.335,0.245,0.28]},
{"topic":19,"narrator":"Stacey","chapter":[1,2,3,4,5,6,7,8,9,10,11,12,13,14,15],"p":[0.008,0.02,0.005,0.005,0.005,0.005,0.005,0.005,0.005,0.005,0.005,0.005,0.005,0.005,0.005],"lo":[0.005,0.015,0.003,0.003,0.003,0.003,0.003,0.003,0.003,0.003,0.003,0.003,0.003,0.003,0.003],"hi":[0.011,0.025,0.007,0.007,0.007,0.007,0.007,0.007,0.007,0.007,0.007,0.007,0.007,0.007,0.007]},
{"topic":19,"narrator":"Jessi","chapter":[1,2,3,4,5,6,7,8,9,10,11,12,13,14,15],"p":[0.004,0.004,0.004,0.004,0.004,0.004,0.004,0.004,0.004,0.004,0.004,0.004,0.004,0.004,0.004],"lo":[0.002,0.002,0.002,0.002,0.002,0.002,0.002,0.002,0.002,0.002,0.002,0.002,0.002,0.002,0.002],"hi":[0.006,0.006,0.006,0.006,0.006,0.006,0.006,0.006,0.006,0.006,0.006,0.006,0.006,0.006,0.006]},
{"topic":19,"narrator":"Mary Anne","chapter":[1,2,3,4,5,6,7,8,9,10,11,12,13,14,15],"p":[0.005,0.01,0.005,0.005,0.005,0.005,0.005,0.005,0.005,0.005,0.005,0.005,0.005,0.005,0.005],"lo":[0.003,0.007,0.003,0.003,0.003,0.003,0.003,0.003,0.003,0.003,0.003,0.003,0.003,0.003,0.003],"hi":[0.007,0.013,0.007,0.007,0.007,0.007,0.007,0.007,0.007,0.007,0.007,0.007,0.007,0.007,0.007]},
{"topic":19,"narrator":"Dawn","chapter":[1,2,3,4,5,6,7,8,9,10,11,12,13,14,15],"p":[0.004,0.005,0.004,0.004,0.004,0.004,0.004,0.004,0.004,0.004,0.004,0.004,0.004,0.004,0.004],"lo":[0.002,0.003,0.002,0.002,0.002,0.002,0.002,0.002,0.002,0.002,0.002,0.002,0.002,0.002,0.002],"hi":[0.006,0.007,0.006,0.006,0.006,0.006,0.006,0.006,0.006,0.006,0.006,0.006,0.006,0.006,0.006]},
{"topic":19,"narrator":"Logan","chapter":[1,2,3,4,5,6,7,8,9,10,11,12,13,14,15],"p":[0.003,0.003,0.003,0.003,0.003,0.003,0.003,0.003,0.003,0.003,0.003,0.003,0.003,0.003,0.003],"lo":[0.001,0.001,0.001,0.001,0.001,0.001,0.001,0.001,0.001,0.001,0.001,0.001,0.001,0.001,0.001],"hi":[0.005,0.005,0.005,0.005,0.005,0.005,0.005,0.005,0.005,0.005,0.005,0.005,0.005,0.005,0.005]}
]},
"transform": [{"flatten": ["chapter", "p", "lo", "hi"]}],
"columns": 4,
"spacing": {"row": 38, "column": 20},
"bounds": "flush",
"concat": [
{"title":"topic = 0","transform":[{"filter":"datum.topic==0"}],"encoding":{"x":{"field":"chapter","type":"quantitative","scale":{"domain":[0.3,15.7],"nice":false},"axis":{"values":[5,10,15],"labels":false,"title":null}},"y":{"field":"p","type":"quantitative","scale":{"domain":[-0.025,0.526],"nice":false},"axis":{"values":[0,0.1,0.2,0.3,0.4,0.5],"format":".1f","title":"proportion"}}},"layer":[{"mark":{"type":"area","fillOpacity":0.2},"encoding":{"y":{"field":"lo","type":"quantitative","scale":{"domain":[-0.025,0.526],"nice":false},"axis":{"values":[0,0.1,0.2,0.3,0.4,0.5],"format":".1f","title":"proportion"}},"y2":{"field":"hi"},"fill":{"field":"narrator","type":"nominal","scale":{"domain":["Claudia","Kristy","Mallory","Shannon","Abby","Stacey","Jessi","Mary Anne","Dawn","Logan"]},"legend":null}}},{"mark":{"type":"line","strokeWidth":2},"encoding":{"stroke":{"field":"narrator","type":"nominal","sort":null,"title":"narrator"}}}]},
{"title":"topic = 1","transform":[{"filter":"datum.topic==1"}],"encoding":{"x":{"field":"chapter","type":"quantitative","scale":{"domain":[0.3,15.7],"nice":false},"axis":{"values":[5,10,15],"labels":false,"title":null}},"y":{"field":"p","type":"quantitative","scale":{"domain":[-0.025,0.526],"nice":false},"axis":{"values":[0,0.1,0.2,0.3,0.4,0.5],"labels":false,"title":null}}},"layer":[{"mark":{"type":"area","fillOpacity":0.2},"encoding":{"y":{"field":"lo","type":"quantitative","scale":{"domain":[-0.025,0.526],"nice":false},"axis":{"values":[0,0.1,0.2,0.3,0.4,0.5],"labels":false,"title":null}},"y2":{"field":"hi"},"fill":{"field":"narrator","type":"nominal","scale":{"domain":["Claudia","Kristy","Mallory","Shannon","Abby","Stacey","Jessi","Mary Anne","Dawn","Logan"]},"legend":null}}},{"mark":{"type":"line","strokeWidth":2},"encoding":{"stroke":{"field":"narrator","type":"nominal","sort":null,"title":"narrator"}}}]},
{"title":"topic = 2","transform":[{"filter":"datum.topic==2"}],"encoding":{"x":{"field":"chapter","type":"quantitative","scale":{"domain":[0.3,15.7],"nice":false},"axis":{"values":[5,10,15],"labels":false,"title":null}},"y":{"field":"p","type":"quantitative","scale":{"domain":[-0.025,0.526],"nice":false},"axis":{"values":[0,0.1,0.2,0.3,0.4,0.5],"labels":false,"title":null}}},"layer":[{"mark":{"type":"area","fillOpacity":0.2},"encoding":{"y":{"field":"lo","type":"quantitative","scale":{"domain":[-0.025,0.526],"nice":false},"axis":{"values":[0,0.1,0.2,0.3,0.4,0.5],"labels":false,"title":null}},"y2":{"field":"hi"},"fill":{"field":"narrator","type":"nominal","scale":{"domain":["Claudia","Kristy","Mallory","Shannon","Abby","Stacey","Jessi","Mary Anne","Dawn","Logan"]},"legend":null}}},{"mark":{"type":"line","strokeWidth":2},"encoding":{"stroke":{"field":"narrator","type":"nominal","sort":null,"title":"narrator"}}}]},
{"title":"topic = 3","transform":[{"filter":"datum.topic==3"}],"encoding":{"x":{"field":"chapter","type":"quantitative","scale":{"domain":[0.3,15.7],"nice":false},"axis":{"values":[5,10,15],"labels":false,"title":null}},"y":{"field":"p","type":"quantitative","scale":{"domain":[-0.025,0.526],"nice":false},"axis":{"values":[0,0.1,0.2,0.3,0.4,0.5],"labels":false,"title":null}}},"layer":[{"mark":{"type":"area","fillOpacity":0.2},"encoding":{"y":{"field":"lo","type":"quantitative","scale":{"domain":[-0.025,0.526],"nice":false},"axis":{"values":[0,0.1,0.2,0.3,0.4,0.5],"labels":false,"title":null}},"y2":{"field":"hi"},"fill":{"field":"narrator","type":"nominal","scale":{"domain":["Claudia","Kristy","Mallory","Shannon","Abby","Stacey","Jessi","Mary Anne","Dawn","Logan"]},"legend":null}}},{"mark":{"type":"line","strokeWidth":2},"encoding":{"stroke":{"field":"narrator","type":"nominal","sort":null,"title":"narrator"}}}]},
{"title":"topic = 4","transform":[{"filter":"datum.topic==4"}],"encoding":{"x":{"field":"chapter","type":"quantitative","scale":{"domain":[0.3,15.7],"nice":false},"axis":{"values":[5,10,15],"labels":false,"title":null}},"y":{"field":"p","type":"quantitative","scale":{"domain":[-0.025,0.526],"nice":false},"axis":{"values":[0,0.1,0.2,0.3,0.4,0.5],"format":".1f","title":"proportion"}}},"layer":[{"mark":{"type":"area","fillOpacity":0.2},"encoding":{"y":{"field":"lo","type":"quantitative","scale":{"domain":[-0.025,0.526],"nice":false},"axis":{"values":[0,0.1,0.2,0.3,0.4,0.5],"format":".1f","title":"proportion"}},"y2":{"field":"hi"},"fill":{"field":"narrator","type":"nominal","scale":{"domain":["Claudia","Kristy","Mallory","Shannon","Abby","Stacey","Jessi","Mary Anne","Dawn","Logan"]},"legend":null}}},{"mark":{"type":"line","strokeWidth":2},"encoding":{"stroke":{"field":"narrator","type":"nominal","sort":null,"title":"narrator"}}}]},
{"title":"topic = 5","transform":[{"filter":"datum.topic==5"}],"encoding":{"x":{"field":"chapter","type":"quantitative","scale":{"domain":[0.3,15.7],"nice":false},"axis":{"values":[5,10,15],"labels":false,"title":null}},"y":{"field":"p","type":"quantitative","scale":{"domain":[-0.025,0.526],"nice":false},"axis":{"values":[0,0.1,0.2,0.3,0.4,0.5],"labels":false,"title":null}}},"layer":[{"mark":{"type":"area","fillOpacity":0.2},"encoding":{"y":{"field":"lo","type":"quantitative","scale":{"domain":[-0.025,0.526],"nice":false},"axis":{"values":[0,0.1,0.2,0.3,0.4,0.5],"labels":false,"title":null}},"y2":{"field":"hi"},"fill":{"field":"narrator","type":"nominal","scale":{"domain":["Claudia","Kristy","Mallory","Shannon","Abby","Stacey","Jessi","Mary Anne","Dawn","Logan"]},"legend":null}}},{"mark":{"type":"line","strokeWidth":2},"encoding":{"stroke":{"field":"narrator","type":"nominal","sort":null,"title":"narrator"}}}]},
{"title":"topic = 6","transform":[{"filter":"datum.topic==6"}],"encoding":{"x":{"field":"chapter","type":"quantitative","scale":{"domain":[0.3,15.7],"nice":false},"axis":{"values":[5,10,15],"labels":false,"title":null}},"y":{"field":"p","type":"quantitative","scale":{"domain":[-0.025,0.526],"nice":false},"axis":{"values":[0,0.1,0.2,0.3,0.4,0.5],"labels":false,"title":null}}},"layer":[{"mark":{"type":"area","fillOpacity":0.2},"encoding":{"y":{"field":"lo","type":"quantitative","scale":{"domain":[-0.025,0.526],"nice":false},"axis":{"values":[0,0.1,0.2,0.3,0.4,0.5],"labels":false,"title":null}},"y2":{"field":"hi"},"fill":{"field":"narrator","type":"nominal","scale":{"domain":["Claudia","Kristy","Mallory","Shannon","Abby","Stacey","Jessi","Mary Anne","Dawn","Logan"]},"legend":null}}},{"mark":{"type":"line","strokeWidth":2},"encoding":{"stroke":{"field":"narrator","type":"nominal","sort":null,"title":"narrator"}}}]},
{"title":"topic = 7","transform":[{"filter":"datum.topic==7"}],"encoding":{"x":{"field":"chapter","type":"quantitative","scale":{"domain":[0.3,15.7],"nice":false},"axis":{"values":[5,10,15],"labels":false,"title":null}},"y":{"field":"p","type":"quantitative","scale":{"domain":[-0.025,0.526],"nice":false},"axis":{"values":[0,0.1,0.2,0.3,0.4,0.5],"labels":false,"title":null}}},"layer":[{"mark":{"type":"area","fillOpacity":0.2},"encoding":{"y":{"field":"lo","type":"quantitative","scale":{"domain":[-0.025,0.526],"nice":false},"axis":{"values":[0,0.1,0.2,0.3,0.4,0.5],"labels":false,"title":null}},"y2":{"field":"hi"},"fill":{"field":"narrator","type":"nominal","scale":{"domain":["Claudia","Kristy","Mallory","Shannon","Abby","Stacey","Jessi","Mary Anne","Dawn","Logan"]},"legend":null}}},{"mark":{"type":"line","strokeWidth":2},"encoding":{"stroke":{"field":"narrator","type":"nominal","sort":null,"title":"narrator"}}}]},
{"title":"topic = 8","transform":[{"filter":"datum.topic==8"}],"encoding":{"x":{"field":"chapter","type":"quantitative","scale":{"domain":[0.3,15.7],"nice":false},"axis":{"values":[5,10,15],"labels":false,"title":null}},"y":{"field":"p","type":"quantitative","scale":{"domain":[-0.025,0.526],"nice":false},"axis":{"values":[0,0.1,0.2,0.3,0.4,0.5],"format":".1f","title":"proportion"}}},"layer":[{"mark":{"type":"area","fillOpacity":0.2},"encoding":{"y":{"field":"lo","type":"quantitative","scale":{"domain":[-0.025,0.526],"nice":false},"axis":{"values":[0,0.1,0.2,0.3,0.4,0.5],"format":".1f","title":"proportion"}},"y2":{"field":"hi"},"fill":{"field":"narrator","type":"nominal","scale":{"domain":["Claudia","Kristy","Mallory","Shannon","Abby","Stacey","Jessi","Mary Anne","Dawn","Logan"]},"legend":null}}},{"mark":{"type":"line","strokeWidth":2},"encoding":{"stroke":{"field":"narrator","type":"nominal","sort":null,"title":"narrator"}}}]},
{"title":"topic = 9","transform":[{"filter":"datum.topic==9"}],"encoding":{"x":{"field":"chapter","type":"quantitative","scale":{"domain":[0.3,15.7],"nice":false},"axis":{"values":[5,10,15],"labels":false,"title":null}},"y":{"field":"p","type":"quantitative","scale":{"domain":[-0.025,0.526],"nice":false},"axis":{"values":[0,0.1,0.2,0.3,0.4,0.5],"labels":false,"title":null}}},"layer":[{"mark":{"type":"area","fillOpacity":0.2},"encoding":{"y":{"field":"lo","type":"quantitative","scale":{"domain":[-0.025,0.526],"nice":false},"axis":{"values":[0,0.1,0.2,0.3,0.4,0.5],"labels":false,"title":null}},"y2":{"field":"hi"},"fill":{"field":"narrator","type":"nominal","scale":{"domain":["Claudia","Kristy","Mallory","Shannon","Abby","Stacey","Jessi","Mary Anne","Dawn","Logan"]},"legend":null}}},{"mark":{"type":"line","strokeWidth":2},"encoding":{"stroke":{"field":"narrator","type":"nominal","sort":null,"title":"narrator"}}}]},
{"title":"topic = 10","transform":[{"filter":"datum.topic==10"}],"encoding":{"x":{"field":"chapter","type":"quantitative","scale":{"domain":[0.3,15.7],"nice":false},"axis":{"values":[5,10,15],"labels":false,"title":null}},"y":{"field":"p","type":"quantitative","scale":{"domain":[-0.025,0.526],"nice":false},"axis":{"values":[0,0.1,0.2,0.3,0.4,0.5],"labels":false,"title":null}}},"layer":[{"mark":{"type":"area","fillOpacity":0.2},"encoding":{"y":{"field":"lo","type":"quantitative","scale":{"domain":[-0.025,0.526],"nice":false},"axis":{"values":[0,0.1,0.2,0.3,0.4,0.5],"labels":false,"title":null}},"y2":{"field":"hi"},"fill":{"field":"narrator","type":"nominal","scale":{"domain":["Claudia","Kristy","Mallory","Shannon","Abby","Stacey","Jessi","Mary Anne","Dawn","Logan"]},"legend":null}}},{"mark":{"type":"line","strokeWidth":2},"encoding":{"stroke":{"field":"narrator","type":"nominal","sort":null,"title":"narrator"}}}]},
{"title":"topic = 11","transform":[{"filter":"datum.topic==11"}],"encoding":{"x":{"field":"chapter","type":"quantitative","scale":{"domain":[0.3,15.7],"nice":false},"axis":{"values":[5,10,15],"labels":false,"title":null}},"y":{"field":"p","type":"quantitative","scale":{"domain":[-0.025,0.526],"nice":false},"axis":{"values":[0,0.1,0.2,0.3,0.4,0.5],"labels":false,"title":null}}},"layer":[{"mark":{"type":"area","fillOpacity":0.2},"encoding":{"y":{"field":"lo","type":"quantitative","scale":{"domain":[-0.025,0.526],"nice":false},"axis":{"values":[0,0.1,0.2,0.3,0.4,0.5],"labels":false,"title":null}},"y2":{"field":"hi"},"fill":{"field":"narrator","type":"nominal","scale":{"domain":["Claudia","Kristy","Mallory","Shannon","Abby","Stacey","Jessi","Mary Anne","Dawn","Logan"]},"legend":null}}},{"mark":{"type":"line","strokeWidth":2},"encoding":{"stroke":{"field":"narrator","type":"nominal","sort":null,"title":"narrator"}}}]},
{"title":"topic = 12","transform":[{"filter":"datum.topic==12"}],"encoding":{"x":{"field":"chapter","type":"quantitative","scale":{"domain":[0.3,15.7],"nice":false},"axis":{"values":[5,10,15],"labels":false,"title":null}},"y":{"field":"p","type":"quantitative","scale":{"domain":[-0.025,0.526],"nice":false},"axis":{"values":[0,0.1,0.2,0.3,0.4,0.5],"format":".1f","title":"proportion"}}},"layer":[{"mark":{"type":"area","fillOpacity":0.2},"encoding":{"y":{"field":"lo","type":"quantitative","scale":{"domain":[-0.025,0.526],"nice":false},"axis":{"values":[0,0.1,0.2,0.3,0.4,0.5],"format":".1f","title":"proportion"}},"y2":{"field":"hi"},"fill":{"field":"narrator","type":"nominal","scale":{"domain":["Claudia","Kristy","Mallory","Shannon","Abby","Stacey","Jessi","Mary Anne","Dawn","Logan"]},"legend":null}}},{"mark":{"type":"line","strokeWidth":2},"encoding":{"stroke":{"field":"narrator","type":"nominal","sort":null,"title":"narrator"}}}]},
{"title":"topic = 13","transform":[{"filter":"datum.topic==13"}],"encoding":{"x":{"field":"chapter","type":"quantitative","scale":{"domain":[0.3,15.7],"nice":false},"axis":{"values":[5,10,15],"labels":false,"title":null}},"y":{"field":"p","type":"quantitative","scale":{"domain":[-0.025,0.526],"nice":false},"axis":{"values":[0,0.1,0.2,0.3,0.4,0.5],"labels":false,"title":null}}},"layer":[{"mark":{"type":"area","fillOpacity":0.2},"encoding":{"y":{"field":"lo","type":"quantitative","scale":{"domain":[-0.025,0.526],"nice":false},"axis":{"values":[0,0.1,0.2,0.3,0.4,0.5],"labels":false,"title":null}},"y2":{"field":"hi"},"fill":{"field":"narrator","type":"nominal","scale":{"domain":["Claudia","Kristy","Mallory","Shannon","Abby","Stacey","Jessi","Mary Anne","Dawn","Logan"]},"legend":null}}},{"mark":{"type":"line","strokeWidth":2},"encoding":{"stroke":{"field":"narrator","type":"nominal","sort":null,"title":"narrator"}}}]},
{"title":"topic = 14","transform":[{"filter":"datum.topic==14"}],"encoding":{"x":{"field":"chapter","type":"quantitative","scale":{"domain":[0.3,15.7],"nice":false},"axis":{"values":[5,10,15],"labels":false,"title":null}},"y":{"field":"p","type":"quantitative","scale":{"domain":[-0.025,0.526],"nice":false},"axis":{"values":[0,0.1,0.2,0.3,0.4,0.5],"labels":false,"title":null}}},"layer":[{"mark":{"type":"area","fillOpacity":0.2},"encoding":{"y":{"field":"lo","type":"quantitative","scale":{"domain":[-0.025,0.526],"nice":false},"axis":{"values":[0,0.1,0.2,0.3,0.4,0.5],"labels":false,"title":null}},"y2":{"field":"hi"},"fill":{"field":"narrator","type":"nominal","scale":{"domain":["Claudia","Kristy","Mallory","Shannon","Abby","Stacey","Jessi","Mary Anne","Dawn","Logan"]},"legend":null}}},{"mark":{"type":"line","strokeWidth":2},"encoding":{"stroke":{"field":"narrator","type":"nominal","sort":null,"title":"narrator"}}}]},
{"title":"topic = 15","transform":[{"filter":"datum.topic==15"}],"encoding":{"x":{"field":"chapter","type":"quantitative","scale":{"domain":[0.3,15.7],"nice":false},"axis":{"values":[5,10,15],"labels":false,"title":null}},"y":{"field":"p","type":"quantitative","scale":{"domain":[-0.025,0.526],"nice":false},"axis":{"values":[0,0.1,0.2,0.3,0.4,0.5],"labels":false,"title":null}}},"layer":[{"mark":{"type":"area","fillOpacity":0.2},"encoding":{"y":{"field":"lo","type":"quantitative","scale":{"domain":[-0.025,0.526],"nice":false},"axis":{"values":[0,0.1,0.2,0.3,0.4,0.5],"labels":false,"title":null}},"y2":{"field":"hi"},"fill":{"field":"narrator","type":"nominal","scale":{"domain":["Claudia","Kristy","Mallory","Shannon","Abby","Stacey","Jessi","Mary Anne","Dawn","Logan"]},"legend":null}}},{"mark":{"type":"line","strokeWidth":2},"encoding":{"stroke":{"field":"narrator","type":"nominal","sort":null,"title":"narrator"}}}]},
{"title":"topic = 16","transform":[{"filter":"datum.topic==16"}],"encoding":{"x":{"field":"chapter","type":"quantitative","scale":{"domain":[0.3,15.7],"nice":false},"axis":{"values":[5,10,15],"title":"chapter"}},"y":{"field":"p","type":"quantitative","scale":{"domain":[-0.025,0.526],"nice":false},"axis":{"values":[0,0.1,0.2,0.3,0.4,0.5],"format":".1f","title":"proportion"}}},"layer":[{"mark":{"type":"area","fillOpacity":0.2},"encoding":{"y":{"field":"lo","type":"quantitative","scale":{"domain":[-0.025,0.526],"nice":false},"axis":{"values":[0,0.1,0.2,0.3,0.4,0.5],"format":".1f","title":"proportion"}},"y2":{"field":"hi"},"fill":{"field":"narrator","type":"nominal","scale":{"domain":["Claudia","Kristy","Mallory","Shannon","Abby","Stacey","Jessi","Mary Anne","Dawn","Logan"]},"legend":null}}},{"mark":{"type":"line","strokeWidth":2},"encoding":{"stroke":{"field":"narrator","type":"nominal","sort":null,"title":"narrator"}}}]},
{"title":"topic = 17","transform":[{"filter":"datum.topic==17"}],"encoding":{"x":{"field":"chapter","type":"quantitative","scale":{"domain":[0.3,15.7],"nice":false},"axis":{"values":[5,10,15],"title":"chapter"}},"y":{"field":"p","type":"quantitative","scale":{"domain":[-0.025,0.526],"nice":false},"axis":{"values":[0,0.1,0.2,0.3,0.4,0.5],"labels":false,"title":null}}},"layer":[{"mark":{"type":"area","fillOpacity":0.2},"encoding":{"y":{"field":"lo","type":"quantitative","scale":{"domain":[-0.025,0.526],"nice":false},"axis":{"values":[0,0.1,0.2,0.3,0.4,0.5],"labels":false,"title":null}},"y2":{"field":"hi"},"fill":{"field":"narrator","type":"nominal","scale":{"domain":["Claudia","Kristy","Mallory","Shannon","Abby","Stacey","Jessi","Mary Anne","Dawn","Logan"]},"legend":null}}},{"mark":{"type":"line","strokeWidth":2},"encoding":{"stroke":{"field":"narrator","type":"nominal","sort":null,"title":"narrator"}}}]},
{"title":"topic = 18","transform":[{"filter":"datum.topic==18"}],"encoding":{"x":{"field":"chapter","type":"quantitative","scale":{"domain":[0.3,15.7],"nice":false},"axis":{"values":[5,10,15],"title":"chapter"}},"y":{"field":"p","type":"quantitative","scale":{"domain":[-0.025,0.526],"nice":false},"axis":{"values":[0,0.1,0.2,0.3,0.4,0.5],"labels":false,"title":null}}},"layer":[{"mark":{"type":"area","fillOpacity":0.2},"encoding":{"y":{"field":"lo","type":"quantitative","scale":{"domain":[-0.025,0.526],"nice":false},"axis":{"values":[0,0.1,0.2,0.3,0.4,0.5],"labels":false,"title":null}},"y2":{"field":"hi"},"fill":{"field":"narrator","type":"nominal","scale":{"domain":["Claudia","Kristy","Mallory","Shannon","Abby","Stacey","Jessi","Mary Anne","Dawn","Logan"]},"legend":null}}},{"mark":{"type":"line","strokeWidth":2},"encoding":{"stroke":{"field":"narrator","type":"nominal","sort":null,"title":"narrator"}}}]},
{"title":"topic = 19","transform":[{"filter":"datum.topic==19"}],"encoding":{"x":{"field":"chapter","type":"quantitative","scale":{"domain":[0.3,15.7],"nice":false},"axis":{"values":[5,10,15],"title":"chapter"}},"y":{"field":"p","type":"quantitative","scale":{"domain":[-0.025,0.526],"nice":false},"axis":{"values":[0,0.1,0.2,0.3,0.4,0.5],"labels":false,"title":null}}},"layer":[{"mark":{"type":"area","fillOpacity":0.2},"encoding":{"y":{"field":"lo","type":"quantitative","scale":{"domain":[-0.025,0.526],"nice":false},"axis":{"values":[0,0.1,0.2,0.3,0.4,0.5],"labels":false,"title":null}},"y2":{"field":"hi"},"fill":{"field":"narrator","type":"nominal","scale":{"domain":["Claudia","Kristy","Mallory","Shannon","Abby","Stacey","Jessi","Mary Anne","Dawn","Logan"]},"legend":null}}},{"mark":{"type":"line","strokeWidth":2},"encoding":{"stroke":{"field":"narrator","type":"nominal","sort":null,"title":"narrator"}}}]}
],
"config": {
 "font": "DejaVu Sans",
 "view": {"continuousWidth": 263, "continuousHeight": 251, "stroke": null},
 "range": {"category": ["#1f77b4", "#ff7f0e", "#2ca02c", "#d62728", "#9467bd", "#8c564b", "#e377c2", "#7f7f7f", "#bcbd22", "#17becf"]},
 "title": {"font": "DejaVu Sans", "fontSize": 13.9, "fontWeight": "normal", "color": "#000000", "anchor": "middle", "baseline": "alphabetic", "offset": 8},
 "axis": {"labelFont": "DejaVu Sans", "titleFont": "DejaVu Sans", "labelFontSize": 13.9, "titleFontSize": 13.9, "titleFontWeight": "normal", "labelColor": "#000000", "titleColor": "#000000", "domainColor": "#000000", "tickColor": "#000000", "domainWidth": 1.1, "tickWidth": 1.1, "tickSize": 5, "labelPadding": 4, "titlePadding": 5, "grid": false},
 "legend": {"orient": "none", "legendX": 1127, "legendY": 603, "titleFont": "DejaVu Sans", "labelFont": "DejaVu Sans", "titleFontSize": 13.9, "titleFontWeight": "normal", "labelFontSize": 13.9, "titleColor": "#000000", "labelColor": "#000000", "titleAnchor": "middle", "titlePadding": 2, "symbolType": "M-1.15,0H1.15", "symbolStrokeWidth": 2, "symbolSize": 676, "labelOffset": 11, "rowPadding": 0}
}
}
